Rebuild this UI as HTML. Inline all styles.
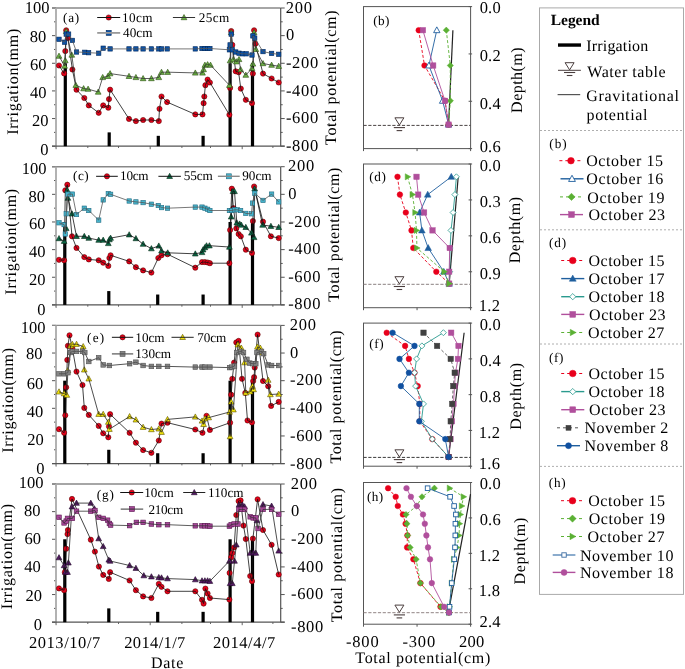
<!DOCTYPE html>
<html><head><meta charset="utf-8"><style>
html,body{margin:0;padding:0;background:#fff;}
body{width:685px;height:669px;overflow:hidden;font-family:"Liberation Serif", serif;}
svg{display:block;}
text{font-family:"Liberation Serif", serif;text-rendering:geometricPrecision;}
svg{will-change:transform;filter:blur(0.35px);}
</style></head><body>
<svg width="685" height="669" viewBox="0 0 685 669" font-family='"Liberation Serif", serif'><line x1="52" y1="146.2" x2="56" y2="146.2" stroke="#555" stroke-width="1" stroke-linecap="butt"/><line x1="54" y1="132.38" x2="56" y2="132.38" stroke="#555" stroke-width="1" stroke-linecap="butt"/><line x1="52" y1="118.56" x2="56" y2="118.56" stroke="#555" stroke-width="1" stroke-linecap="butt"/><line x1="54" y1="104.74" x2="56" y2="104.74" stroke="#555" stroke-width="1" stroke-linecap="butt"/><line x1="52" y1="90.92" x2="56" y2="90.92" stroke="#555" stroke-width="1" stroke-linecap="butt"/><line x1="54" y1="77.1" x2="56" y2="77.1" stroke="#555" stroke-width="1" stroke-linecap="butt"/><line x1="52" y1="63.28" x2="56" y2="63.28" stroke="#555" stroke-width="1" stroke-linecap="butt"/><line x1="54" y1="49.46" x2="56" y2="49.46" stroke="#555" stroke-width="1" stroke-linecap="butt"/><line x1="52" y1="35.64" x2="56" y2="35.64" stroke="#555" stroke-width="1" stroke-linecap="butt"/><line x1="54" y1="21.82" x2="56" y2="21.82" stroke="#555" stroke-width="1" stroke-linecap="butt"/><line x1="52" y1="8" x2="56" y2="8" stroke="#555" stroke-width="1" stroke-linecap="butt"/><line x1="280.7" y1="8" x2="284.7" y2="8" stroke="#555" stroke-width="1" stroke-linecap="butt"/><line x1="280.7" y1="21.82" x2="282.7" y2="21.82" stroke="#555" stroke-width="1" stroke-linecap="butt"/><line x1="280.7" y1="35.64" x2="284.7" y2="35.64" stroke="#555" stroke-width="1" stroke-linecap="butt"/><line x1="280.7" y1="49.46" x2="282.7" y2="49.46" stroke="#555" stroke-width="1" stroke-linecap="butt"/><line x1="280.7" y1="63.28" x2="284.7" y2="63.28" stroke="#555" stroke-width="1" stroke-linecap="butt"/><line x1="280.7" y1="77.1" x2="282.7" y2="77.1" stroke="#555" stroke-width="1" stroke-linecap="butt"/><line x1="280.7" y1="90.92" x2="284.7" y2="90.92" stroke="#555" stroke-width="1" stroke-linecap="butt"/><line x1="280.7" y1="104.74" x2="282.7" y2="104.74" stroke="#555" stroke-width="1" stroke-linecap="butt"/><line x1="280.7" y1="118.56" x2="284.7" y2="118.56" stroke="#555" stroke-width="1" stroke-linecap="butt"/><line x1="280.7" y1="132.38" x2="282.7" y2="132.38" stroke="#555" stroke-width="1" stroke-linecap="butt"/><line x1="280.7" y1="146.2" x2="284.7" y2="146.2" stroke="#555" stroke-width="1" stroke-linecap="butt"/><line x1="56.1" y1="146.2" x2="56.1" y2="149.2" stroke="#666" stroke-width="1" stroke-linecap="butt"/><line x1="87.8" y1="146.2" x2="87.8" y2="148" stroke="#666" stroke-width="1" stroke-linecap="butt"/><line x1="118.5" y1="146.2" x2="118.5" y2="148" stroke="#666" stroke-width="1" stroke-linecap="butt"/><line x1="150.2" y1="146.2" x2="150.2" y2="149.2" stroke="#666" stroke-width="1" stroke-linecap="butt"/><line x1="181.9" y1="146.2" x2="181.9" y2="148" stroke="#666" stroke-width="1" stroke-linecap="butt"/><line x1="210.5" y1="146.2" x2="210.5" y2="148" stroke="#666" stroke-width="1" stroke-linecap="butt"/><line x1="242.2" y1="146.2" x2="242.2" y2="149.2" stroke="#666" stroke-width="1" stroke-linecap="butt"/><line x1="272.9" y1="146.2" x2="272.9" y2="148" stroke="#666" stroke-width="1" stroke-linecap="butt"/><line x1="52" y1="8" x2="280.7" y2="8" stroke="#888" stroke-width="1.4" stroke-linecap="butt"/><line x1="56" y1="8" x2="56" y2="148.2" stroke="#aaa" stroke-width="1.8" stroke-linecap="butt"/><line x1="280.7" y1="8" x2="280.7" y2="146.2" stroke="#555" stroke-width="1.2" stroke-linecap="butt"/><line x1="52" y1="146.2" x2="284.7" y2="146.2" stroke="#555" stroke-width="1.2" stroke-linecap="butt"/><text x="40.17" y="155.4" font-size="16.5" letter-spacing="0" text-anchor="start" fill="#000">0</text><text x="32.12" y="126.46" font-size="16.5" letter-spacing="0" text-anchor="start" fill="#000">20</text><text x="30.12" y="98.02" font-size="16.5" letter-spacing="0" text-anchor="start" fill="#000">40</text><text x="30.12" y="69.88" font-size="16.5" letter-spacing="0" text-anchor="start" fill="#000">60</text><text x="29.82" y="41.64" font-size="16.5" letter-spacing="0" text-anchor="start" fill="#000">80</text><text x="24.87" y="13.4" font-size="16.5" letter-spacing="0" text-anchor="start" fill="#000">100</text><text x="285.76" y="12.6" font-size="16.5" letter-spacing="0.7" text-anchor="start" fill="#000">200</text><text x="285.88" y="40.24" font-size="16.5" letter-spacing="0.7" text-anchor="start" fill="#000">0</text><text x="285.88" y="67.88" font-size="16.5" letter-spacing="0.7" text-anchor="start" fill="#000">-200</text><text x="285.88" y="95.52" font-size="16.5" letter-spacing="0.7" text-anchor="start" fill="#000">-400</text><text x="285.88" y="123.16" font-size="16.5" letter-spacing="0.7" text-anchor="start" fill="#000">-600</text><text x="285.88" y="150.6" font-size="16.5" letter-spacing="0.7" text-anchor="start" fill="#000">-800</text><text transform="translate(17.79,134.86) rotate(-90)" x="0" y="0" font-size="16" letter-spacing="0.78" fill="#000">Irrigation(mm)</text><text transform="translate(336.41,144.88) rotate(-90)" x="0" y="0" font-size="16" letter-spacing="0.64" fill="#000">Total potential(cm)</text><line x1="52" y1="304.9" x2="56" y2="304.9" stroke="#555" stroke-width="1" stroke-linecap="butt"/><line x1="54" y1="291.08" x2="56" y2="291.08" stroke="#555" stroke-width="1" stroke-linecap="butt"/><line x1="52" y1="277.26" x2="56" y2="277.26" stroke="#555" stroke-width="1" stroke-linecap="butt"/><line x1="54" y1="263.44" x2="56" y2="263.44" stroke="#555" stroke-width="1" stroke-linecap="butt"/><line x1="52" y1="249.62" x2="56" y2="249.62" stroke="#555" stroke-width="1" stroke-linecap="butt"/><line x1="54" y1="235.8" x2="56" y2="235.8" stroke="#555" stroke-width="1" stroke-linecap="butt"/><line x1="52" y1="221.98" x2="56" y2="221.98" stroke="#555" stroke-width="1" stroke-linecap="butt"/><line x1="54" y1="208.16" x2="56" y2="208.16" stroke="#555" stroke-width="1" stroke-linecap="butt"/><line x1="52" y1="194.34" x2="56" y2="194.34" stroke="#555" stroke-width="1" stroke-linecap="butt"/><line x1="54" y1="180.52" x2="56" y2="180.52" stroke="#555" stroke-width="1" stroke-linecap="butt"/><line x1="52" y1="166.7" x2="56" y2="166.7" stroke="#555" stroke-width="1" stroke-linecap="butt"/><line x1="280.7" y1="166.7" x2="284.7" y2="166.7" stroke="#555" stroke-width="1" stroke-linecap="butt"/><line x1="280.7" y1="180.52" x2="282.7" y2="180.52" stroke="#555" stroke-width="1" stroke-linecap="butt"/><line x1="280.7" y1="194.34" x2="284.7" y2="194.34" stroke="#555" stroke-width="1" stroke-linecap="butt"/><line x1="280.7" y1="208.16" x2="282.7" y2="208.16" stroke="#555" stroke-width="1" stroke-linecap="butt"/><line x1="280.7" y1="221.98" x2="284.7" y2="221.98" stroke="#555" stroke-width="1" stroke-linecap="butt"/><line x1="280.7" y1="235.8" x2="282.7" y2="235.8" stroke="#555" stroke-width="1" stroke-linecap="butt"/><line x1="280.7" y1="249.62" x2="284.7" y2="249.62" stroke="#555" stroke-width="1" stroke-linecap="butt"/><line x1="280.7" y1="263.44" x2="282.7" y2="263.44" stroke="#555" stroke-width="1" stroke-linecap="butt"/><line x1="280.7" y1="277.26" x2="284.7" y2="277.26" stroke="#555" stroke-width="1" stroke-linecap="butt"/><line x1="280.7" y1="291.08" x2="282.7" y2="291.08" stroke="#555" stroke-width="1" stroke-linecap="butt"/><line x1="280.7" y1="304.9" x2="284.7" y2="304.9" stroke="#555" stroke-width="1" stroke-linecap="butt"/><line x1="56.1" y1="304.9" x2="56.1" y2="307.9" stroke="#666" stroke-width="1" stroke-linecap="butt"/><line x1="87.8" y1="304.9" x2="87.8" y2="306.7" stroke="#666" stroke-width="1" stroke-linecap="butt"/><line x1="118.5" y1="304.9" x2="118.5" y2="306.7" stroke="#666" stroke-width="1" stroke-linecap="butt"/><line x1="150.2" y1="304.9" x2="150.2" y2="307.9" stroke="#666" stroke-width="1" stroke-linecap="butt"/><line x1="181.9" y1="304.9" x2="181.9" y2="306.7" stroke="#666" stroke-width="1" stroke-linecap="butt"/><line x1="210.5" y1="304.9" x2="210.5" y2="306.7" stroke="#666" stroke-width="1" stroke-linecap="butt"/><line x1="242.2" y1="304.9" x2="242.2" y2="307.9" stroke="#666" stroke-width="1" stroke-linecap="butt"/><line x1="272.9" y1="304.9" x2="272.9" y2="306.7" stroke="#666" stroke-width="1" stroke-linecap="butt"/><line x1="52" y1="166.7" x2="280.7" y2="166.7" stroke="#888" stroke-width="1.4" stroke-linecap="butt"/><line x1="56" y1="166.7" x2="56" y2="306.9" stroke="#aaa" stroke-width="1.8" stroke-linecap="butt"/><line x1="280.7" y1="166.7" x2="280.7" y2="304.9" stroke="#555" stroke-width="1.2" stroke-linecap="butt"/><line x1="52" y1="304.9" x2="284.7" y2="304.9" stroke="#555" stroke-width="1.2" stroke-linecap="butt"/><text x="37.27" y="314.8" font-size="16.5" letter-spacing="0" text-anchor="start" fill="#000">0</text><text x="28.92" y="284.66" font-size="16.5" letter-spacing="0" text-anchor="start" fill="#000">20</text><text x="28.92" y="256.82" font-size="16.5" letter-spacing="0" text-anchor="start" fill="#000">40</text><text x="28.92" y="229.18" font-size="16.5" letter-spacing="0" text-anchor="start" fill="#000">60</text><text x="28.52" y="201.54" font-size="16.5" letter-spacing="0" text-anchor="start" fill="#000">80</text><text x="21.77" y="173.5" font-size="16.5" letter-spacing="0" text-anchor="start" fill="#000">100</text><text x="288.06" y="171.3" font-size="16.5" letter-spacing="0.7" text-anchor="start" fill="#000">200</text><text x="288.18" y="198.94" font-size="16.5" letter-spacing="0.7" text-anchor="start" fill="#000">0</text><text x="288.18" y="226.58" font-size="16.5" letter-spacing="0.7" text-anchor="start" fill="#000">-200</text><text x="288.18" y="254.22" font-size="16.5" letter-spacing="0.7" text-anchor="start" fill="#000">-400</text><text x="288.18" y="281.86" font-size="16.5" letter-spacing="0.7" text-anchor="start" fill="#000">-600</text><text x="288.18" y="308.9" font-size="16.5" letter-spacing="0.7" text-anchor="start" fill="#000">-800</text><text transform="translate(15.64,294.66) rotate(-90)" x="0" y="0" font-size="16" letter-spacing="0.76" fill="#000">Irrigation(mm)</text><text transform="translate(339.26,301.78) rotate(-90)" x="0" y="0" font-size="16" letter-spacing="0.63" fill="#000">Total potential(cm)</text><line x1="52" y1="463.6" x2="56" y2="463.6" stroke="#555" stroke-width="1" stroke-linecap="butt"/><line x1="54" y1="449.78" x2="56" y2="449.78" stroke="#555" stroke-width="1" stroke-linecap="butt"/><line x1="52" y1="435.96" x2="56" y2="435.96" stroke="#555" stroke-width="1" stroke-linecap="butt"/><line x1="54" y1="422.14" x2="56" y2="422.14" stroke="#555" stroke-width="1" stroke-linecap="butt"/><line x1="52" y1="408.32" x2="56" y2="408.32" stroke="#555" stroke-width="1" stroke-linecap="butt"/><line x1="54" y1="394.5" x2="56" y2="394.5" stroke="#555" stroke-width="1" stroke-linecap="butt"/><line x1="52" y1="380.68" x2="56" y2="380.68" stroke="#555" stroke-width="1" stroke-linecap="butt"/><line x1="54" y1="366.86" x2="56" y2="366.86" stroke="#555" stroke-width="1" stroke-linecap="butt"/><line x1="52" y1="353.04" x2="56" y2="353.04" stroke="#555" stroke-width="1" stroke-linecap="butt"/><line x1="54" y1="339.22" x2="56" y2="339.22" stroke="#555" stroke-width="1" stroke-linecap="butt"/><line x1="52" y1="325.4" x2="56" y2="325.4" stroke="#555" stroke-width="1" stroke-linecap="butt"/><line x1="280.7" y1="325.4" x2="284.7" y2="325.4" stroke="#555" stroke-width="1" stroke-linecap="butt"/><line x1="280.7" y1="339.22" x2="282.7" y2="339.22" stroke="#555" stroke-width="1" stroke-linecap="butt"/><line x1="280.7" y1="353.04" x2="284.7" y2="353.04" stroke="#555" stroke-width="1" stroke-linecap="butt"/><line x1="280.7" y1="366.86" x2="282.7" y2="366.86" stroke="#555" stroke-width="1" stroke-linecap="butt"/><line x1="280.7" y1="380.68" x2="284.7" y2="380.68" stroke="#555" stroke-width="1" stroke-linecap="butt"/><line x1="280.7" y1="394.5" x2="282.7" y2="394.5" stroke="#555" stroke-width="1" stroke-linecap="butt"/><line x1="280.7" y1="408.32" x2="284.7" y2="408.32" stroke="#555" stroke-width="1" stroke-linecap="butt"/><line x1="280.7" y1="422.14" x2="282.7" y2="422.14" stroke="#555" stroke-width="1" stroke-linecap="butt"/><line x1="280.7" y1="435.96" x2="284.7" y2="435.96" stroke="#555" stroke-width="1" stroke-linecap="butt"/><line x1="280.7" y1="449.78" x2="282.7" y2="449.78" stroke="#555" stroke-width="1" stroke-linecap="butt"/><line x1="280.7" y1="463.6" x2="284.7" y2="463.6" stroke="#555" stroke-width="1" stroke-linecap="butt"/><line x1="56.1" y1="463.6" x2="56.1" y2="466.6" stroke="#666" stroke-width="1" stroke-linecap="butt"/><line x1="87.8" y1="463.6" x2="87.8" y2="465.4" stroke="#666" stroke-width="1" stroke-linecap="butt"/><line x1="118.5" y1="463.6" x2="118.5" y2="465.4" stroke="#666" stroke-width="1" stroke-linecap="butt"/><line x1="150.2" y1="463.6" x2="150.2" y2="466.6" stroke="#666" stroke-width="1" stroke-linecap="butt"/><line x1="181.9" y1="463.6" x2="181.9" y2="465.4" stroke="#666" stroke-width="1" stroke-linecap="butt"/><line x1="210.5" y1="463.6" x2="210.5" y2="465.4" stroke="#666" stroke-width="1" stroke-linecap="butt"/><line x1="242.2" y1="463.6" x2="242.2" y2="466.6" stroke="#666" stroke-width="1" stroke-linecap="butt"/><line x1="272.9" y1="463.6" x2="272.9" y2="465.4" stroke="#666" stroke-width="1" stroke-linecap="butt"/><line x1="52" y1="325.4" x2="280.7" y2="325.4" stroke="#888" stroke-width="1.4" stroke-linecap="butt"/><line x1="56" y1="325.4" x2="56" y2="465.6" stroke="#aaa" stroke-width="1.8" stroke-linecap="butt"/><line x1="280.7" y1="325.4" x2="280.7" y2="463.6" stroke="#555" stroke-width="1.2" stroke-linecap="butt"/><line x1="52" y1="463.6" x2="284.7" y2="463.6" stroke="#555" stroke-width="1.2" stroke-linecap="butt"/><text x="36.17" y="473.8" font-size="16.5" letter-spacing="0" text-anchor="start" fill="#000">0</text><text x="27.32" y="445.26" font-size="16.5" letter-spacing="0" text-anchor="start" fill="#000">20</text><text x="26.72" y="416.82" font-size="16.5" letter-spacing="0" text-anchor="start" fill="#000">40</text><text x="26.72" y="388.78" font-size="16.5" letter-spacing="0" text-anchor="start" fill="#000">60</text><text x="26.12" y="359.34" font-size="16.5" letter-spacing="0" text-anchor="start" fill="#000">80</text><text x="20.87" y="332.7" font-size="16.5" letter-spacing="0" text-anchor="start" fill="#000">100</text><text x="289.86" y="330" font-size="16.5" letter-spacing="0.7" text-anchor="start" fill="#000">200</text><text x="289.98" y="357.64" font-size="16.5" letter-spacing="0.7" text-anchor="start" fill="#000">0</text><text x="289.98" y="385.28" font-size="16.5" letter-spacing="0.7" text-anchor="start" fill="#000">-200</text><text x="289.98" y="412.92" font-size="16.5" letter-spacing="0.7" text-anchor="start" fill="#000">-400</text><text x="289.98" y="440.56" font-size="16.5" letter-spacing="0.7" text-anchor="start" fill="#000">-600</text><text x="289.98" y="469.3" font-size="16.5" letter-spacing="0.7" text-anchor="start" fill="#000">-800</text><text transform="translate(13.44,452.76) rotate(-90)" x="0" y="0" font-size="16" letter-spacing="0.68" fill="#000">Irrigation(mm)</text><text transform="translate(341.06,463.58) rotate(-90)" x="0" y="0" font-size="16" letter-spacing="0.58" fill="#000">Total potential(cm)</text><line x1="52" y1="622.2" x2="56" y2="622.2" stroke="#555" stroke-width="1" stroke-linecap="butt"/><line x1="54" y1="608.38" x2="56" y2="608.38" stroke="#555" stroke-width="1" stroke-linecap="butt"/><line x1="52" y1="594.56" x2="56" y2="594.56" stroke="#555" stroke-width="1" stroke-linecap="butt"/><line x1="54" y1="580.74" x2="56" y2="580.74" stroke="#555" stroke-width="1" stroke-linecap="butt"/><line x1="52" y1="566.92" x2="56" y2="566.92" stroke="#555" stroke-width="1" stroke-linecap="butt"/><line x1="54" y1="553.1" x2="56" y2="553.1" stroke="#555" stroke-width="1" stroke-linecap="butt"/><line x1="52" y1="539.28" x2="56" y2="539.28" stroke="#555" stroke-width="1" stroke-linecap="butt"/><line x1="54" y1="525.46" x2="56" y2="525.46" stroke="#555" stroke-width="1" stroke-linecap="butt"/><line x1="52" y1="511.64" x2="56" y2="511.64" stroke="#555" stroke-width="1" stroke-linecap="butt"/><line x1="54" y1="497.82" x2="56" y2="497.82" stroke="#555" stroke-width="1" stroke-linecap="butt"/><line x1="52" y1="484" x2="56" y2="484" stroke="#555" stroke-width="1" stroke-linecap="butt"/><line x1="280.7" y1="484" x2="284.7" y2="484" stroke="#555" stroke-width="1" stroke-linecap="butt"/><line x1="280.7" y1="497.82" x2="282.7" y2="497.82" stroke="#555" stroke-width="1" stroke-linecap="butt"/><line x1="280.7" y1="511.64" x2="284.7" y2="511.64" stroke="#555" stroke-width="1" stroke-linecap="butt"/><line x1="280.7" y1="525.46" x2="282.7" y2="525.46" stroke="#555" stroke-width="1" stroke-linecap="butt"/><line x1="280.7" y1="539.28" x2="284.7" y2="539.28" stroke="#555" stroke-width="1" stroke-linecap="butt"/><line x1="280.7" y1="553.1" x2="282.7" y2="553.1" stroke="#555" stroke-width="1" stroke-linecap="butt"/><line x1="280.7" y1="566.92" x2="284.7" y2="566.92" stroke="#555" stroke-width="1" stroke-linecap="butt"/><line x1="280.7" y1="580.74" x2="282.7" y2="580.74" stroke="#555" stroke-width="1" stroke-linecap="butt"/><line x1="280.7" y1="594.56" x2="284.7" y2="594.56" stroke="#555" stroke-width="1" stroke-linecap="butt"/><line x1="280.7" y1="608.38" x2="282.7" y2="608.38" stroke="#555" stroke-width="1" stroke-linecap="butt"/><line x1="280.7" y1="622.2" x2="284.7" y2="622.2" stroke="#555" stroke-width="1" stroke-linecap="butt"/><line x1="56.1" y1="622.2" x2="56.1" y2="625.2" stroke="#666" stroke-width="1" stroke-linecap="butt"/><line x1="87.8" y1="622.2" x2="87.8" y2="624" stroke="#666" stroke-width="1" stroke-linecap="butt"/><line x1="118.5" y1="622.2" x2="118.5" y2="624" stroke="#666" stroke-width="1" stroke-linecap="butt"/><line x1="150.2" y1="622.2" x2="150.2" y2="625.2" stroke="#666" stroke-width="1" stroke-linecap="butt"/><line x1="181.9" y1="622.2" x2="181.9" y2="624" stroke="#666" stroke-width="1" stroke-linecap="butt"/><line x1="210.5" y1="622.2" x2="210.5" y2="624" stroke="#666" stroke-width="1" stroke-linecap="butt"/><line x1="242.2" y1="622.2" x2="242.2" y2="625.2" stroke="#666" stroke-width="1" stroke-linecap="butt"/><line x1="272.9" y1="622.2" x2="272.9" y2="624" stroke="#666" stroke-width="1" stroke-linecap="butt"/><line x1="52" y1="484" x2="280.7" y2="484" stroke="#888" stroke-width="1.4" stroke-linecap="butt"/><line x1="56" y1="484" x2="56" y2="624.2" stroke="#aaa" stroke-width="1.8" stroke-linecap="butt"/><line x1="280.7" y1="484" x2="280.7" y2="622.2" stroke="#555" stroke-width="1.2" stroke-linecap="butt"/><line x1="52" y1="622.2" x2="284.7" y2="622.2" stroke="#555" stroke-width="1.2" stroke-linecap="butt"/><text x="33.77" y="629.7" font-size="16.5" letter-spacing="0" text-anchor="start" fill="#000">0</text><text x="25.52" y="600.86" font-size="16.5" letter-spacing="0" text-anchor="start" fill="#000">20</text><text x="24.32" y="572.32" font-size="16.5" letter-spacing="0" text-anchor="start" fill="#000">40</text><text x="24.62" y="544.18" font-size="16.5" letter-spacing="0" text-anchor="start" fill="#000">60</text><text x="23.92" y="515.94" font-size="16.5" letter-spacing="0" text-anchor="start" fill="#000">80</text><text x="18.77" y="488.2" font-size="16.5" letter-spacing="0" text-anchor="start" fill="#000">100</text><text x="290.86" y="488.6" font-size="16.5" letter-spacing="0.7" text-anchor="start" fill="#000">200</text><text x="290.98" y="516.24" font-size="16.5" letter-spacing="0.7" text-anchor="start" fill="#000">0</text><text x="290.98" y="543.88" font-size="16.5" letter-spacing="0.7" text-anchor="start" fill="#000">-200</text><text x="290.98" y="571.52" font-size="16.5" letter-spacing="0.7" text-anchor="start" fill="#000">-400</text><text x="290.98" y="599.16" font-size="16.5" letter-spacing="0.7" text-anchor="start" fill="#000">-600</text><text x="290.98" y="631.6" font-size="16.5" letter-spacing="0.7" text-anchor="start" fill="#000">-800</text><text transform="translate(12.14,609.36) rotate(-90)" x="0" y="0" font-size="16" letter-spacing="0.73" fill="#000">Irrigation(mm)</text><text transform="translate(341.56,622.18) rotate(-90)" x="0" y="0" font-size="16" letter-spacing="0.63" fill="#000">Total potential(cm)</text><rect x="63.7" y="63.28" width="3.2" height="82.92" fill="#000"/><rect x="107.6" y="132.38" width="3.2" height="13.82" fill="#000"/><rect x="156.7" y="135.83" width="3.2" height="10.37" fill="#000"/><rect x="201.5" y="135.83" width="3.2" height="10.37" fill="#000"/><rect x="228.5" y="63.28" width="3.2" height="82.92" fill="#000"/><rect x="250.9" y="63.28" width="3.2" height="82.92" fill="#000"/><circle cx="59" cy="65.5" r="2.6" fill="#e6001a" stroke="#5a0000" stroke-width="0.6"/><circle cx="64.1" cy="73.4" r="2.6" fill="#e6001a" stroke="#5a0000" stroke-width="0.6"/><circle cx="65.3" cy="51.1" r="2.6" fill="#e6001a" stroke="#5a0000" stroke-width="0.6"/><circle cx="66.2" cy="30.3" r="2.6" fill="#e6001a" stroke="#5a0000" stroke-width="0.6"/><circle cx="67.9" cy="38.1" r="2.6" fill="#e6001a" stroke="#5a0000" stroke-width="0.6"/><circle cx="72.4" cy="69.5" r="2.6" fill="#e6001a" stroke="#5a0000" stroke-width="0.6"/><circle cx="76.5" cy="89.7" r="2.6" fill="#e6001a" stroke="#5a0000" stroke-width="0.6"/><circle cx="84.3" cy="98" r="2.6" fill="#e6001a" stroke="#5a0000" stroke-width="0.6"/><circle cx="88.8" cy="105.4" r="2.6" fill="#e6001a" stroke="#5a0000" stroke-width="0.6"/><circle cx="98.7" cy="112.8" r="2.6" fill="#e6001a" stroke="#5a0000" stroke-width="0.6"/><circle cx="103.2" cy="105.4" r="2.6" fill="#e6001a" stroke="#5a0000" stroke-width="0.6"/><circle cx="108.3" cy="107.7" r="2.6" fill="#e6001a" stroke="#5a0000" stroke-width="0.6"/><circle cx="109" cy="99.1" r="2.6" fill="#e6001a" stroke="#5a0000" stroke-width="0.6"/><circle cx="110.1" cy="89.7" r="2.6" fill="#e6001a" stroke="#5a0000" stroke-width="0.6"/><circle cx="129" cy="118.9" r="2.6" fill="#e6001a" stroke="#5a0000" stroke-width="0.6"/><circle cx="135.9" cy="121.1" r="2.6" fill="#e6001a" stroke="#5a0000" stroke-width="0.6"/><circle cx="143.1" cy="120" r="2.6" fill="#e6001a" stroke="#5a0000" stroke-width="0.6"/><circle cx="151.4" cy="120" r="2.6" fill="#e6001a" stroke="#5a0000" stroke-width="0.6"/><circle cx="158.8" cy="121.1" r="2.6" fill="#e6001a" stroke="#5a0000" stroke-width="0.6"/><circle cx="159.5" cy="108.8" r="2.6" fill="#e6001a" stroke="#5a0000" stroke-width="0.6"/><circle cx="161.5" cy="96.5" r="2.6" fill="#e6001a" stroke="#5a0000" stroke-width="0.6"/><circle cx="167.1" cy="102.1" r="2.6" fill="#e6001a" stroke="#5a0000" stroke-width="0.6"/><circle cx="195.3" cy="114.4" r="2.6" fill="#e6001a" stroke="#5a0000" stroke-width="0.6"/><circle cx="202.5" cy="114.4" r="2.6" fill="#e6001a" stroke="#5a0000" stroke-width="0.6"/><circle cx="203.6" cy="103.2" r="2.6" fill="#e6001a" stroke="#5a0000" stroke-width="0.6"/><circle cx="204.3" cy="96.5" r="2.6" fill="#e6001a" stroke="#5a0000" stroke-width="0.6"/><circle cx="205.4" cy="85.2" r="2.6" fill="#e6001a" stroke="#5a0000" stroke-width="0.6"/><circle cx="207.6" cy="79.6" r="2.6" fill="#e6001a" stroke="#5a0000" stroke-width="0.6"/><circle cx="209.9" cy="82.5" r="2.6" fill="#e6001a" stroke="#5a0000" stroke-width="0.6"/><circle cx="229.4" cy="114.8" r="2.6" fill="#e6001a" stroke="#5a0000" stroke-width="0.6"/><circle cx="230.1" cy="87.9" r="2.6" fill="#e6001a" stroke="#5a0000" stroke-width="0.6"/><circle cx="231.2" cy="31" r="2.6" fill="#e6001a" stroke="#5a0000" stroke-width="0.6"/><circle cx="232.3" cy="44.9" r="2.6" fill="#e6001a" stroke="#5a0000" stroke-width="0.6"/><circle cx="235.7" cy="71.3" r="2.6" fill="#e6001a" stroke="#5a0000" stroke-width="0.6"/><circle cx="238.6" cy="72.2" r="2.6" fill="#e6001a" stroke="#5a0000" stroke-width="0.6"/><circle cx="240.8" cy="88.6" r="2.6" fill="#e6001a" stroke="#5a0000" stroke-width="0.6"/><circle cx="245.8" cy="99.8" r="2.6" fill="#e6001a" stroke="#5a0000" stroke-width="0.6"/><circle cx="252" cy="103.2" r="2.6" fill="#e6001a" stroke="#5a0000" stroke-width="0.6"/><circle cx="252.9" cy="73.6" r="2.6" fill="#e6001a" stroke="#5a0000" stroke-width="0.6"/><circle cx="254.1" cy="30.3" r="2.6" fill="#e6001a" stroke="#5a0000" stroke-width="0.6"/><circle cx="255.4" cy="43.7" r="2.6" fill="#e6001a" stroke="#5a0000" stroke-width="0.6"/><circle cx="263" cy="73.6" r="2.6" fill="#e6001a" stroke="#5a0000" stroke-width="0.6"/><circle cx="271.6" cy="78.5" r="2.6" fill="#e6001a" stroke="#5a0000" stroke-width="0.6"/><circle cx="278.7" cy="82.5" r="2.6" fill="#e6001a" stroke="#5a0000" stroke-width="0.6"/><polyline points="59,65.5 64.1,73.4 65.3,51.1 66.2,30.3 67.9,38.1 72.4,69.5 76.5,89.7 84.3,98 88.8,105.4 98.7,112.8 103.2,105.4 108.3,107.7 109,99.1 110.1,89.7 129,118.9 135.9,121.1 143.1,120 151.4,120 158.8,121.1 159.5,108.8 161.5,96.5 167.1,102.1 195.3,114.4 202.5,114.4 203.6,103.2 204.3,96.5 205.4,85.2 207.6,79.6 209.9,82.5 229.4,114.8 230.1,87.9 231.2,31 232.3,44.9 235.7,71.3 238.6,72.2 240.8,88.6 245.8,99.8 252,103.2 252.9,73.6 254.1,30.3 255.4,43.7 263,73.6 271.6,78.5 278.7,82.5" fill="none" stroke="#111" stroke-width="0.8" stroke-linejoin="round"/><path d="M59,53.11L61.86,58.31L56.14,58.31Z" fill="#6cb444" stroke="#2a4a10" stroke-width="0.6"/><path d="M64.6,63.01L67.46,68.21L61.74,68.21Z" fill="#6cb444" stroke="#2a4a10" stroke-width="0.6"/><path d="M65.3,57.61L68.16,62.81L62.44,62.81Z" fill="#6cb444" stroke="#2a4a10" stroke-width="0.6"/><path d="M66.2,28.41L69.06,33.61L63.34,33.61Z" fill="#6cb444" stroke="#2a4a10" stroke-width="0.6"/><path d="M71.8,52.01L74.66,57.21L68.94,57.21Z" fill="#6cb444" stroke="#2a4a10" stroke-width="0.6"/><path d="M75.8,82.21L78.66,87.41L72.94,87.41Z" fill="#6cb444" stroke="#2a4a10" stroke-width="0.6"/><path d="M83.6,85.61L86.46,90.81L80.74,90.81Z" fill="#6cb444" stroke="#2a4a10" stroke-width="0.6"/><path d="M88.1,86.11L90.96,91.31L85.24,91.31Z" fill="#6cb444" stroke="#2a4a10" stroke-width="0.6"/><path d="M98.2,89.01L101.06,94.21L95.34,94.21Z" fill="#6cb444" stroke="#2a4a10" stroke-width="0.6"/><path d="M102.7,74.41L105.56,79.61L99.84,79.61Z" fill="#6cb444" stroke="#2a4a10" stroke-width="0.6"/><path d="M107.9,73.31L110.76,78.51L105.04,78.51Z" fill="#6cb444" stroke="#2a4a10" stroke-width="0.6"/><path d="M110.1,70.61L112.96,75.81L107.24,75.81Z" fill="#6cb444" stroke="#2a4a10" stroke-width="0.6"/><path d="M129,73.31L131.86,78.51L126.14,78.51Z" fill="#6cb444" stroke="#2a4a10" stroke-width="0.6"/><path d="M135.9,74.41L138.76,79.61L133.04,79.61Z" fill="#6cb444" stroke="#2a4a10" stroke-width="0.6"/><path d="M143.1,75.51L145.96,80.71L140.24,80.71Z" fill="#6cb444" stroke="#2a4a10" stroke-width="0.6"/><path d="M151.4,75.51L154.26,80.71L148.54,80.71Z" fill="#6cb444" stroke="#2a4a10" stroke-width="0.6"/><path d="M158.8,74.41L161.66,79.61L155.94,79.61Z" fill="#6cb444" stroke="#2a4a10" stroke-width="0.6"/><path d="M161.5,69.21L164.36,74.41L158.64,74.41Z" fill="#6cb444" stroke="#2a4a10" stroke-width="0.6"/><path d="M167.7,69.21L170.56,74.41L164.84,74.41Z" fill="#6cb444" stroke="#2a4a10" stroke-width="0.6"/><path d="M195.3,69.91L198.16,75.11L192.44,75.11Z" fill="#6cb444" stroke="#2a4a10" stroke-width="0.6"/><path d="M202.5,69.91L205.36,75.11L199.64,75.11Z" fill="#6cb444" stroke="#2a4a10" stroke-width="0.6"/><path d="M203.6,66.51L206.46,71.71L200.74,71.71Z" fill="#6cb444" stroke="#2a4a10" stroke-width="0.6"/><path d="M204.9,62.11L207.76,67.31L202.04,67.31Z" fill="#6cb444" stroke="#2a4a10" stroke-width="0.6"/><path d="M207.6,61.61L210.46,66.81L204.74,66.81Z" fill="#6cb444" stroke="#2a4a10" stroke-width="0.6"/><path d="M210.5,62.11L213.36,67.31L207.64,67.31Z" fill="#6cb444" stroke="#2a4a10" stroke-width="0.6"/><path d="M229.4,82.21L232.26,87.41L226.54,87.41Z" fill="#6cb444" stroke="#2a4a10" stroke-width="0.6"/><path d="M230.1,57.61L232.96,62.81L227.24,62.81Z" fill="#6cb444" stroke="#2a4a10" stroke-width="0.6"/><path d="M231.2,29.51L234.06,34.71L228.34,34.71Z" fill="#6cb444" stroke="#2a4a10" stroke-width="0.6"/><path d="M233.4,56.41L236.26,61.61L230.54,61.61Z" fill="#6cb444" stroke="#2a4a10" stroke-width="0.6"/><path d="M236.3,58.71L239.16,63.91L233.44,63.91Z" fill="#6cb444" stroke="#2a4a10" stroke-width="0.6"/><path d="M239,56.41L241.86,61.61L236.14,61.61Z" fill="#6cb444" stroke="#2a4a10" stroke-width="0.6"/><path d="M240.6,66.51L243.46,71.71L237.74,71.71Z" fill="#6cb444" stroke="#2a4a10" stroke-width="0.6"/><path d="M245.8,72.11L248.66,77.31L242.94,77.31Z" fill="#6cb444" stroke="#2a4a10" stroke-width="0.6"/><path d="M252,65.41L254.86,70.61L249.14,70.61Z" fill="#6cb444" stroke="#2a4a10" stroke-width="0.6"/><path d="M252.9,60.91L255.76,66.11L250.04,66.11Z" fill="#6cb444" stroke="#2a4a10" stroke-width="0.6"/><path d="M254.1,29.51L256.96,34.71L251.24,34.71Z" fill="#6cb444" stroke="#2a4a10" stroke-width="0.6"/><path d="M255.8,46.31L258.66,51.51L252.94,51.51Z" fill="#6cb444" stroke="#2a4a10" stroke-width="0.6"/><path d="M263,60.51L265.86,65.71L260.14,65.71Z" fill="#6cb444" stroke="#2a4a10" stroke-width="0.6"/><path d="M271.6,62.11L274.46,67.31L268.74,67.31Z" fill="#6cb444" stroke="#2a4a10" stroke-width="0.6"/><path d="M278.7,63.21L281.56,68.41L275.84,68.41Z" fill="#6cb444" stroke="#2a4a10" stroke-width="0.6"/><polyline points="59,56.1 64.6,66 65.3,60.6 66.2,31.4 71.8,55 75.8,85.2 83.6,88.6 88.1,89.1 98.2,92 102.7,77.4 107.9,76.3 110.1,73.6 129,76.3 135.9,77.4 143.1,78.5 151.4,78.5 158.8,77.4 161.5,72.2 167.7,72.2 195.3,72.9 202.5,72.9 203.6,69.5 204.9,65.1 207.6,64.6 210.5,65.1 229.4,85.2 230.1,60.6 231.2,32.5 233.4,59.4 236.3,61.7 239,59.4 240.6,69.5 245.8,75.1 252,68.4 252.9,63.9 254.1,32.5 255.8,49.3 263,63.5 271.6,65.1 278.7,66.2" fill="none" stroke="#333" stroke-width="0.8" stroke-linejoin="round"/><rect x="56.8" y="37.1" width="4.4" height="4.4" fill="#0a52a8" stroke="#03285a" stroke-width="0.6"/><rect x="62.4" y="40" width="4.4" height="4.4" fill="#0a52a8" stroke="#03285a" stroke-width="0.6"/><rect x="64" y="31.9" width="4.4" height="4.4" fill="#0a52a8" stroke="#03285a" stroke-width="0.6"/><rect x="66.4" y="31.9" width="4.4" height="4.4" fill="#0a52a8" stroke="#03285a" stroke-width="0.6"/><rect x="70.2" y="38.2" width="4.4" height="4.4" fill="#0a52a8" stroke="#03285a" stroke-width="0.6"/><rect x="74.3" y="49.8" width="4.4" height="4.4" fill="#0a52a8" stroke="#03285a" stroke-width="0.6"/><rect x="82.6" y="50.1" width="4.4" height="4.4" fill="#0a52a8" stroke="#03285a" stroke-width="0.6"/><rect x="86.4" y="50.5" width="4.4" height="4.4" fill="#0a52a8" stroke="#03285a" stroke-width="0.6"/><rect x="96.5" y="51" width="4.4" height="4.4" fill="#0a52a8" stroke="#03285a" stroke-width="0.6"/><rect x="101" y="46" width="4.4" height="4.4" fill="#0a52a8" stroke="#03285a" stroke-width="0.6"/><rect x="107.9" y="46.7" width="4.4" height="4.4" fill="#0a52a8" stroke="#03285a" stroke-width="0.6"/><rect x="126.8" y="46.7" width="4.4" height="4.4" fill="#0a52a8" stroke="#03285a" stroke-width="0.6"/><rect x="133.7" y="46.7" width="4.4" height="4.4" fill="#0a52a8" stroke="#03285a" stroke-width="0.6"/><rect x="140.9" y="46.7" width="4.4" height="4.4" fill="#0a52a8" stroke="#03285a" stroke-width="0.6"/><rect x="149.2" y="46.7" width="4.4" height="4.4" fill="#0a52a8" stroke="#03285a" stroke-width="0.6"/><rect x="156.6" y="46.7" width="4.4" height="4.4" fill="#0a52a8" stroke="#03285a" stroke-width="0.6"/><rect x="159.3" y="46.7" width="4.4" height="4.4" fill="#0a52a8" stroke="#03285a" stroke-width="0.6"/><rect x="165" y="46.7" width="4.4" height="4.4" fill="#0a52a8" stroke="#03285a" stroke-width="0.6"/><rect x="193.1" y="46.7" width="4.4" height="4.4" fill="#0a52a8" stroke="#03285a" stroke-width="0.6"/><rect x="199.8" y="46.3" width="4.4" height="4.4" fill="#0a52a8" stroke="#03285a" stroke-width="0.6"/><rect x="202.7" y="46.3" width="4.4" height="4.4" fill="#0a52a8" stroke="#03285a" stroke-width="0.6"/><rect x="205.4" y="46.3" width="4.4" height="4.4" fill="#0a52a8" stroke="#03285a" stroke-width="0.6"/><rect x="207.7" y="46.3" width="4.4" height="4.4" fill="#0a52a8" stroke="#03285a" stroke-width="0.6"/><rect x="227.2" y="47.6" width="4.4" height="4.4" fill="#0a52a8" stroke="#03285a" stroke-width="0.6"/><rect x="227.9" y="42.7" width="4.4" height="4.4" fill="#0a52a8" stroke="#03285a" stroke-width="0.6"/><rect x="229" y="31.9" width="4.4" height="4.4" fill="#0a52a8" stroke="#03285a" stroke-width="0.6"/><rect x="230.1" y="47.6" width="4.4" height="4.4" fill="#0a52a8" stroke="#03285a" stroke-width="0.6"/><rect x="233.5" y="49.8" width="4.4" height="4.4" fill="#0a52a8" stroke="#03285a" stroke-width="0.6"/><rect x="236.8" y="51" width="4.4" height="4.4" fill="#0a52a8" stroke="#03285a" stroke-width="0.6"/><rect x="240.2" y="51.6" width="4.4" height="4.4" fill="#0a52a8" stroke="#03285a" stroke-width="0.6"/><rect x="244" y="51.6" width="4.4" height="4.4" fill="#0a52a8" stroke="#03285a" stroke-width="0.6"/><rect x="249.8" y="52.8" width="4.4" height="4.4" fill="#0a52a8" stroke="#03285a" stroke-width="0.6"/><rect x="250.7" y="33.7" width="4.4" height="4.4" fill="#0a52a8" stroke="#03285a" stroke-width="0.6"/><rect x="252.5" y="35.9" width="4.4" height="4.4" fill="#0a52a8" stroke="#03285a" stroke-width="0.6"/><rect x="260.8" y="49.4" width="4.4" height="4.4" fill="#0a52a8" stroke="#03285a" stroke-width="0.6"/><rect x="269.4" y="51.2" width="4.4" height="4.4" fill="#0a52a8" stroke="#03285a" stroke-width="0.6"/><rect x="276.5" y="52.1" width="4.4" height="4.4" fill="#0a52a8" stroke="#03285a" stroke-width="0.6"/><polyline points="59,39.3 64.6,42.2 66.2,34.1 68.6,34.1 72.4,40.4 76.5,52 84.8,52.3 88.6,52.7 98.7,53.2 103.2,48.2 110.1,48.9 129,48.9 135.9,48.9 143.1,48.9 151.4,48.9 158.8,48.9 161.5,48.9 167.2,48.9 195.3,48.9 202,48.5 204.9,48.5 207.6,48.5 209.9,48.5 229.4,49.8 230.1,44.9 231.2,34.1 232.3,49.8 235.7,52 239,53.2 242.4,53.8 246.2,53.8 252,55 252.9,35.9 254.7,38.1 263,51.6 271.6,53.4 278.7,54.3" fill="none" stroke="#555" stroke-width="0.8" stroke-linejoin="round"/><rect x="63.2" y="221.98" width="3.2" height="82.92" fill="#000"/><rect x="107.2" y="291.08" width="3.2" height="13.82" fill="#000"/><rect x="156.1" y="294.53" width="3.2" height="10.37" fill="#000"/><rect x="201.5" y="294.53" width="3.2" height="10.37" fill="#000"/><rect x="228.5" y="221.98" width="3.2" height="82.92" fill="#000"/><rect x="250.9" y="221.98" width="3.2" height="82.92" fill="#000"/><circle cx="59" cy="259.8" r="2.6" fill="#e6001a" stroke="#5a0000" stroke-width="0.6"/><circle cx="64.1" cy="260.3" r="2.6" fill="#e6001a" stroke="#5a0000" stroke-width="0.6"/><circle cx="65.3" cy="190.3" r="2.6" fill="#e6001a" stroke="#5a0000" stroke-width="0.6"/><circle cx="67.3" cy="184.7" r="2.6" fill="#e6001a" stroke="#5a0000" stroke-width="0.6"/><circle cx="72" cy="236.3" r="2.6" fill="#e6001a" stroke="#5a0000" stroke-width="0.6"/><circle cx="76.5" cy="247.9" r="2.6" fill="#e6001a" stroke="#5a0000" stroke-width="0.6"/><circle cx="84.3" cy="257.1" r="2.6" fill="#e6001a" stroke="#5a0000" stroke-width="0.6"/><circle cx="88.8" cy="259.4" r="2.6" fill="#e6001a" stroke="#5a0000" stroke-width="0.6"/><circle cx="98.7" cy="260.3" r="2.6" fill="#e6001a" stroke="#5a0000" stroke-width="0.6"/><circle cx="103.2" cy="262.7" r="2.6" fill="#e6001a" stroke="#5a0000" stroke-width="0.6"/><circle cx="108.3" cy="265.9" r="2.6" fill="#e6001a" stroke="#5a0000" stroke-width="0.6"/><circle cx="109.4" cy="258" r="2.6" fill="#e6001a" stroke="#5a0000" stroke-width="0.6"/><circle cx="110.6" cy="255.3" r="2.6" fill="#e6001a" stroke="#5a0000" stroke-width="0.6"/><circle cx="129.2" cy="261.4" r="2.6" fill="#e6001a" stroke="#5a0000" stroke-width="0.6"/><circle cx="135.9" cy="267.2" r="2.6" fill="#e6001a" stroke="#5a0000" stroke-width="0.6"/><circle cx="143.1" cy="270.4" r="2.6" fill="#e6001a" stroke="#5a0000" stroke-width="0.6"/><circle cx="151.4" cy="272.6" r="2.6" fill="#e6001a" stroke="#5a0000" stroke-width="0.6"/><circle cx="158.3" cy="258" r="2.6" fill="#e6001a" stroke="#5a0000" stroke-width="0.6"/><circle cx="161.5" cy="255.3" r="2.6" fill="#e6001a" stroke="#5a0000" stroke-width="0.6"/><circle cx="167.5" cy="254.2" r="2.6" fill="#e6001a" stroke="#5a0000" stroke-width="0.6"/><circle cx="195.3" cy="267.7" r="2.6" fill="#e6001a" stroke="#5a0000" stroke-width="0.6"/><circle cx="202" cy="262.1" r="2.6" fill="#e6001a" stroke="#5a0000" stroke-width="0.6"/><circle cx="204.9" cy="262.1" r="2.6" fill="#e6001a" stroke="#5a0000" stroke-width="0.6"/><circle cx="207.6" cy="262.5" r="2.6" fill="#e6001a" stroke="#5a0000" stroke-width="0.6"/><circle cx="209.9" cy="263.2" r="2.6" fill="#e6001a" stroke="#5a0000" stroke-width="0.6"/><circle cx="229.4" cy="263.2" r="2.6" fill="#e6001a" stroke="#5a0000" stroke-width="0.6"/><circle cx="230.1" cy="230" r="2.6" fill="#e6001a" stroke="#5a0000" stroke-width="0.6"/><circle cx="231.8" cy="188.7" r="2.6" fill="#e6001a" stroke="#5a0000" stroke-width="0.6"/><circle cx="233.4" cy="208.2" r="2.6" fill="#e6001a" stroke="#5a0000" stroke-width="0.6"/><circle cx="236.3" cy="228.4" r="2.6" fill="#e6001a" stroke="#5a0000" stroke-width="0.6"/><circle cx="238.6" cy="234" r="2.6" fill="#e6001a" stroke="#5a0000" stroke-width="0.6"/><circle cx="240.8" cy="236.3" r="2.6" fill="#e6001a" stroke="#5a0000" stroke-width="0.6"/><circle cx="245.8" cy="249.7" r="2.6" fill="#e6001a" stroke="#5a0000" stroke-width="0.6"/><circle cx="252" cy="253.1" r="2.6" fill="#e6001a" stroke="#5a0000" stroke-width="0.6"/><circle cx="252.9" cy="221" r="2.6" fill="#e6001a" stroke="#5a0000" stroke-width="0.6"/><circle cx="254.1" cy="186.5" r="2.6" fill="#e6001a" stroke="#5a0000" stroke-width="0.6"/><circle cx="263" cy="221.7" r="2.6" fill="#e6001a" stroke="#5a0000" stroke-width="0.6"/><circle cx="270.9" cy="236.3" r="2.6" fill="#e6001a" stroke="#5a0000" stroke-width="0.6"/><circle cx="278.7" cy="238.1" r="2.6" fill="#e6001a" stroke="#5a0000" stroke-width="0.6"/><polyline points="59,259.8 64.1,260.3 65.3,190.3 67.3,184.7 72,236.3 76.5,247.9 84.3,257.1 88.8,259.4 98.7,260.3 103.2,262.7 108.3,265.9 109.4,258 110.6,255.3 129.2,261.4 135.9,267.2 143.1,270.4 151.4,272.6 158.3,258 161.5,255.3 167.5,254.2 195.3,267.7 202,262.1 204.9,262.1 207.6,262.5 209.9,263.2 229.4,263.2 230.1,230 231.8,188.7 233.4,208.2 236.3,228.4 238.6,234 240.8,236.3 245.8,249.7 252,253.1 252.9,221 254.1,186.5 263,221.7 270.9,236.3 278.7,238.1" fill="none" stroke="#111" stroke-width="0.8" stroke-linejoin="round"/><path d="M59,235.51L61.86,240.71L56.14,240.71Z" fill="#0b6a48" stroke="#0a2a18" stroke-width="0.6"/><path d="M64.1,238.21L66.96,243.41L61.24,243.41Z" fill="#0b6a48" stroke="#0a2a18" stroke-width="0.6"/><path d="M66.2,225.41L69.06,230.61L63.34,230.61Z" fill="#0b6a48" stroke="#0a2a18" stroke-width="0.6"/><path d="M67.3,187.31L70.16,192.51L64.44,192.51Z" fill="#0b6a48" stroke="#0a2a18" stroke-width="0.6"/><path d="M67.9,195.11L70.76,200.31L65.04,200.31Z" fill="#0b6a48" stroke="#0a2a18" stroke-width="0.6"/><path d="M72,210.81L74.86,216.01L69.14,216.01Z" fill="#0b6a48" stroke="#0a2a18" stroke-width="0.6"/><path d="M76.5,233.31L79.36,238.51L73.64,238.51Z" fill="#0b6a48" stroke="#0a2a18" stroke-width="0.6"/><path d="M84.3,233.31L87.16,238.51L81.44,238.51Z" fill="#0b6a48" stroke="#0a2a18" stroke-width="0.6"/><path d="M88.8,235.11L91.66,240.31L85.94,240.31Z" fill="#0b6a48" stroke="#0a2a18" stroke-width="0.6"/><path d="M98.7,237.11L101.56,242.31L95.84,242.31Z" fill="#0b6a48" stroke="#0a2a18" stroke-width="0.6"/><path d="M103.2,237.11L106.06,242.31L100.34,242.31Z" fill="#0b6a48" stroke="#0a2a18" stroke-width="0.6"/><path d="M108.3,240.41L111.16,245.61L105.44,245.61Z" fill="#0b6a48" stroke="#0a2a18" stroke-width="0.6"/><path d="M109.4,236.61L112.26,241.81L106.54,241.81Z" fill="#0b6a48" stroke="#0a2a18" stroke-width="0.6"/><path d="M110.6,235.11L113.46,240.31L107.74,240.31Z" fill="#0b6a48" stroke="#0a2a18" stroke-width="0.6"/><path d="M129.2,231.71L132.06,236.91L126.34,236.91Z" fill="#0b6a48" stroke="#0a2a18" stroke-width="0.6"/><path d="M135.9,235.51L138.76,240.71L133.04,240.71Z" fill="#0b6a48" stroke="#0a2a18" stroke-width="0.6"/><path d="M143.1,241.11L145.96,246.31L140.24,246.31Z" fill="#0b6a48" stroke="#0a2a18" stroke-width="0.6"/><path d="M151.4,245.61L154.26,250.81L148.54,250.81Z" fill="#0b6a48" stroke="#0a2a18" stroke-width="0.6"/><path d="M158.8,242.91L161.66,248.11L155.94,248.11Z" fill="#0b6a48" stroke="#0a2a18" stroke-width="0.6"/><path d="M161.5,247.81L164.36,253.01L158.64,253.01Z" fill="#0b6a48" stroke="#0a2a18" stroke-width="0.6"/><path d="M167.7,249.81L170.56,255.01L164.84,255.01Z" fill="#0b6a48" stroke="#0a2a18" stroke-width="0.6"/><path d="M195.3,250.81L198.16,256.01L192.44,256.01Z" fill="#0b6a48" stroke="#0a2a18" stroke-width="0.6"/><path d="M202,249.41L204.86,254.61L199.14,254.61Z" fill="#0b6a48" stroke="#0a2a18" stroke-width="0.6"/><path d="M203.1,246.71L205.96,251.91L200.24,251.91Z" fill="#0b6a48" stroke="#0a2a18" stroke-width="0.6"/><path d="M204.9,244.51L207.76,249.71L202.04,249.71Z" fill="#0b6a48" stroke="#0a2a18" stroke-width="0.6"/><path d="M206.5,242.71L209.36,247.91L203.64,247.91Z" fill="#0b6a48" stroke="#0a2a18" stroke-width="0.6"/><path d="M209.4,242.71L212.26,247.91L206.54,247.91Z" fill="#0b6a48" stroke="#0a2a18" stroke-width="0.6"/><path d="M229.4,244.01L232.26,249.21L226.54,249.21Z" fill="#0b6a48" stroke="#0a2a18" stroke-width="0.6"/><path d="M231.2,213.81L234.06,219.01L228.34,219.01Z" fill="#0b6a48" stroke="#0a2a18" stroke-width="0.6"/><path d="M233,188.41L235.86,193.61L230.14,193.61Z" fill="#0b6a48" stroke="#0a2a18" stroke-width="0.6"/><path d="M234.5,188.41L237.36,193.61L231.64,193.61Z" fill="#0b6a48" stroke="#0a2a18" stroke-width="0.6"/><path d="M236.8,219.81L239.66,225.01L233.94,225.01Z" fill="#0b6a48" stroke="#0a2a18" stroke-width="0.6"/><path d="M239.7,220.91L242.56,226.11L236.84,226.11Z" fill="#0b6a48" stroke="#0a2a18" stroke-width="0.6"/><path d="M241.3,222.01L244.16,227.21L238.44,227.21Z" fill="#0b6a48" stroke="#0a2a18" stroke-width="0.6"/><path d="M245.8,224.31L248.66,229.51L242.94,229.51Z" fill="#0b6a48" stroke="#0a2a18" stroke-width="0.6"/><path d="M251.4,229.91L254.26,235.11L248.54,235.11Z" fill="#0b6a48" stroke="#0a2a18" stroke-width="0.6"/><path d="M254.1,234.41L256.96,239.61L251.24,239.61Z" fill="#0b6a48" stroke="#0a2a18" stroke-width="0.6"/><path d="M254.7,185.71L257.56,190.91L251.84,190.91Z" fill="#0b6a48" stroke="#0a2a18" stroke-width="0.6"/><path d="M262.6,222.01L265.46,227.21L259.74,227.21Z" fill="#0b6a48" stroke="#0a2a18" stroke-width="0.6"/><path d="M270.9,223.21L273.76,228.41L268.04,228.41Z" fill="#0b6a48" stroke="#0a2a18" stroke-width="0.6"/><path d="M278.7,224.31L281.56,229.51L275.84,229.51Z" fill="#0b6a48" stroke="#0a2a18" stroke-width="0.6"/><polyline points="59,238.5 64.1,241.2 66.2,228.4 67.3,190.3 67.9,198.1 72,213.8 76.5,236.3 84.3,236.3 88.8,238.1 98.7,240.1 103.2,240.1 108.3,243.4 109.4,239.6 110.6,238.1 129.2,234.7 135.9,238.5 143.1,244.1 151.4,248.6 158.8,245.9 161.5,250.8 167.7,252.8 195.3,253.8 202,252.4 203.1,249.7 204.9,247.5 206.5,245.7 209.4,245.7 229.4,247 231.2,216.8 233,191.4 234.5,191.4 236.8,222.8 239.7,223.9 241.3,225 245.8,227.3 251.4,232.9 254.1,237.4 254.7,188.7 262.6,225 270.9,226.2 278.7,227.3" fill="none" stroke="#111" stroke-width="0.8" stroke-linejoin="round"/><rect x="56.8" y="220.6" width="4.4" height="4.4" fill="#46b4cc" stroke="#236a80" stroke-width="0.6"/><rect x="61.9" y="222.4" width="4.4" height="4.4" fill="#46b4cc" stroke="#236a80" stroke-width="0.6"/><rect x="63.1" y="231.8" width="4.4" height="4.4" fill="#46b4cc" stroke="#236a80" stroke-width="0.6"/><rect x="64" y="211.6" width="4.4" height="4.4" fill="#46b4cc" stroke="#236a80" stroke-width="0.6"/><rect x="65.7" y="191.9" width="4.4" height="4.4" fill="#46b4cc" stroke="#236a80" stroke-width="0.6"/><rect x="70.2" y="191.9" width="4.4" height="4.4" fill="#46b4cc" stroke="#236a80" stroke-width="0.6"/><rect x="74.3" y="212.3" width="4.4" height="4.4" fill="#46b4cc" stroke="#236a80" stroke-width="0.6"/><rect x="82.1" y="206" width="4.4" height="4.4" fill="#46b4cc" stroke="#236a80" stroke-width="0.6"/><rect x="86.6" y="208.3" width="4.4" height="4.4" fill="#46b4cc" stroke="#236a80" stroke-width="0.6"/><rect x="96.5" y="217.9" width="4.4" height="4.4" fill="#46b4cc" stroke="#236a80" stroke-width="0.6"/><rect x="101" y="197.7" width="4.4" height="4.4" fill="#46b4cc" stroke="#236a80" stroke-width="0.6"/><rect x="106.1" y="191.4" width="4.4" height="4.4" fill="#46b4cc" stroke="#236a80" stroke-width="0.6"/><rect x="108.4" y="192.1" width="4.4" height="4.4" fill="#46b4cc" stroke="#236a80" stroke-width="0.6"/><rect x="127" y="198.8" width="4.4" height="4.4" fill="#46b4cc" stroke="#236a80" stroke-width="0.6"/><rect x="133.7" y="199.7" width="4.4" height="4.4" fill="#46b4cc" stroke="#236a80" stroke-width="0.6"/><rect x="140.9" y="200.4" width="4.4" height="4.4" fill="#46b4cc" stroke="#236a80" stroke-width="0.6"/><rect x="149.2" y="202" width="4.4" height="4.4" fill="#46b4cc" stroke="#236a80" stroke-width="0.6"/><rect x="156.1" y="203.3" width="4.4" height="4.4" fill="#46b4cc" stroke="#236a80" stroke-width="0.6"/><rect x="159.3" y="205.4" width="4.4" height="4.4" fill="#46b4cc" stroke="#236a80" stroke-width="0.6"/><rect x="165.3" y="206" width="4.4" height="4.4" fill="#46b4cc" stroke="#236a80" stroke-width="0.6"/><rect x="193.1" y="204.9" width="4.4" height="4.4" fill="#46b4cc" stroke="#236a80" stroke-width="0.6"/><rect x="199.8" y="204.9" width="4.4" height="4.4" fill="#46b4cc" stroke="#236a80" stroke-width="0.6"/><rect x="202.7" y="206" width="4.4" height="4.4" fill="#46b4cc" stroke="#236a80" stroke-width="0.6"/><rect x="205.4" y="207.1" width="4.4" height="4.4" fill="#46b4cc" stroke="#236a80" stroke-width="0.6"/><rect x="207.7" y="208.3" width="4.4" height="4.4" fill="#46b4cc" stroke="#236a80" stroke-width="0.6"/><rect x="227.2" y="208.3" width="4.4" height="4.4" fill="#46b4cc" stroke="#236a80" stroke-width="0.6"/><rect x="229.6" y="208.3" width="4.4" height="4.4" fill="#46b4cc" stroke="#236a80" stroke-width="0.6"/><rect x="232.3" y="207.6" width="4.4" height="4.4" fill="#46b4cc" stroke="#236a80" stroke-width="0.6"/><rect x="235" y="207.6" width="4.4" height="4.4" fill="#46b4cc" stroke="#236a80" stroke-width="0.6"/><rect x="238.4" y="208.3" width="4.4" height="4.4" fill="#46b4cc" stroke="#236a80" stroke-width="0.6"/><rect x="243.6" y="211.2" width="4.4" height="4.4" fill="#46b4cc" stroke="#236a80" stroke-width="0.6"/><rect x="249.2" y="211.6" width="4.4" height="4.4" fill="#46b4cc" stroke="#236a80" stroke-width="0.6"/><rect x="250.3" y="200.9" width="4.4" height="4.4" fill="#46b4cc" stroke="#236a80" stroke-width="0.6"/><rect x="252.5" y="191" width="4.4" height="4.4" fill="#46b4cc" stroke="#236a80" stroke-width="0.6"/><rect x="260.8" y="198.2" width="4.4" height="4.4" fill="#46b4cc" stroke="#236a80" stroke-width="0.6"/><rect x="269.4" y="191.9" width="4.4" height="4.4" fill="#46b4cc" stroke="#236a80" stroke-width="0.6"/><rect x="276.5" y="199.7" width="4.4" height="4.4" fill="#46b4cc" stroke="#236a80" stroke-width="0.6"/><polyline points="59,222.8 64.1,224.6 65.3,234 66.2,213.8 67.9,194.1 72.4,194.1 76.5,214.5 84.3,208.2 88.8,210.5 98.7,220.1 103.2,199.9 108.3,193.6 110.6,194.3 129.2,201 135.9,201.9 143.1,202.6 151.4,204.2 158.3,205.5 161.5,207.6 167.5,208.2 195.3,207.1 202,207.1 204.9,208.2 207.6,209.3 209.9,210.5 229.4,210.5 231.8,210.5 234.5,209.8 237.2,209.8 240.6,210.5 245.8,213.4 251.4,213.8 252.5,203.1 254.7,193.2 263,200.4 271.6,194.1 278.7,201.9" fill="none" stroke="#555" stroke-width="0.8" stroke-linejoin="round"/><rect x="63.2" y="380.68" width="3.2" height="82.92" fill="#000"/><rect x="107.2" y="449.78" width="3.2" height="13.82" fill="#000"/><rect x="156.1" y="453.23" width="3.2" height="10.37" fill="#000"/><rect x="201.5" y="453.23" width="3.2" height="10.37" fill="#000"/><rect x="228.5" y="380.68" width="3.2" height="82.92" fill="#000"/><rect x="250.9" y="380.68" width="3.2" height="82.92" fill="#000"/><circle cx="59" cy="429.2" r="2.6" fill="#e6001a" stroke="#5a0000" stroke-width="0.6"/><circle cx="64.1" cy="432.8" r="2.6" fill="#e6001a" stroke="#5a0000" stroke-width="0.6"/><circle cx="65.3" cy="415.3" r="2.6" fill="#e6001a" stroke="#5a0000" stroke-width="0.6"/><circle cx="66.2" cy="387.3" r="2.6" fill="#e6001a" stroke="#5a0000" stroke-width="0.6"/><circle cx="67.3" cy="359.9" r="2.6" fill="#e6001a" stroke="#5a0000" stroke-width="0.6"/><circle cx="67.9" cy="345.8" r="2.6" fill="#e6001a" stroke="#5a0000" stroke-width="0.6"/><circle cx="69.5" cy="335.3" r="2.6" fill="#e6001a" stroke="#5a0000" stroke-width="0.6"/><circle cx="72.4" cy="348.5" r="2.6" fill="#e6001a" stroke="#5a0000" stroke-width="0.6"/><circle cx="76.5" cy="371.6" r="2.6" fill="#e6001a" stroke="#5a0000" stroke-width="0.6"/><circle cx="82.5" cy="385" r="2.6" fill="#e6001a" stroke="#5a0000" stroke-width="0.6"/><circle cx="84.3" cy="407.9" r="2.6" fill="#e6001a" stroke="#5a0000" stroke-width="0.6"/><circle cx="88.8" cy="414.9" r="2.6" fill="#e6001a" stroke="#5a0000" stroke-width="0.6"/><circle cx="98.7" cy="425.9" r="2.6" fill="#e6001a" stroke="#5a0000" stroke-width="0.6"/><circle cx="103.2" cy="433.3" r="2.6" fill="#e6001a" stroke="#5a0000" stroke-width="0.6"/><circle cx="108.3" cy="437.3" r="2.6" fill="#e6001a" stroke="#5a0000" stroke-width="0.6"/><circle cx="109" cy="426.5" r="2.6" fill="#e6001a" stroke="#5a0000" stroke-width="0.6"/><circle cx="110.1" cy="414.2" r="2.6" fill="#e6001a" stroke="#5a0000" stroke-width="0.6"/><circle cx="129.6" cy="432.8" r="2.6" fill="#e6001a" stroke="#5a0000" stroke-width="0.6"/><circle cx="135.9" cy="442.7" r="2.6" fill="#e6001a" stroke="#5a0000" stroke-width="0.6"/><circle cx="143.1" cy="450.1" r="2.6" fill="#e6001a" stroke="#5a0000" stroke-width="0.6"/><circle cx="151.4" cy="452.8" r="2.6" fill="#e6001a" stroke="#5a0000" stroke-width="0.6"/><circle cx="158.8" cy="440.5" r="2.6" fill="#e6001a" stroke="#5a0000" stroke-width="0.6"/><circle cx="161.5" cy="423.6" r="2.6" fill="#e6001a" stroke="#5a0000" stroke-width="0.6"/><circle cx="167.5" cy="422.7" r="2.6" fill="#e6001a" stroke="#5a0000" stroke-width="0.6"/><circle cx="195.3" cy="429.5" r="2.6" fill="#e6001a" stroke="#5a0000" stroke-width="0.6"/><circle cx="202.5" cy="432.8" r="2.6" fill="#e6001a" stroke="#5a0000" stroke-width="0.6"/><circle cx="206.5" cy="415.8" r="2.6" fill="#e6001a" stroke="#5a0000" stroke-width="0.6"/><circle cx="209.9" cy="429.9" r="2.6" fill="#e6001a" stroke="#5a0000" stroke-width="0.6"/><circle cx="230.1" cy="422.7" r="2.6" fill="#e6001a" stroke="#5a0000" stroke-width="0.6"/><circle cx="231.2" cy="394.7" r="2.6" fill="#e6001a" stroke="#5a0000" stroke-width="0.6"/><circle cx="232.3" cy="378.8" r="2.6" fill="#e6001a" stroke="#5a0000" stroke-width="0.6"/><circle cx="234.1" cy="362.6" r="2.6" fill="#e6001a" stroke="#5a0000" stroke-width="0.6"/><circle cx="236.3" cy="342.4" r="2.6" fill="#e6001a" stroke="#5a0000" stroke-width="0.6"/><circle cx="238.6" cy="340.9" r="2.6" fill="#e6001a" stroke="#5a0000" stroke-width="0.6"/><circle cx="242" cy="378.8" r="2.6" fill="#e6001a" stroke="#5a0000" stroke-width="0.6"/><circle cx="245.3" cy="392.9" r="2.6" fill="#e6001a" stroke="#5a0000" stroke-width="0.6"/><circle cx="247.5" cy="420.5" r="2.6" fill="#e6001a" stroke="#5a0000" stroke-width="0.6"/><circle cx="252" cy="422.5" r="2.6" fill="#e6001a" stroke="#5a0000" stroke-width="0.6"/><circle cx="253.2" cy="381" r="2.6" fill="#e6001a" stroke="#5a0000" stroke-width="0.6"/><circle cx="254.1" cy="377.2" r="2.6" fill="#e6001a" stroke="#5a0000" stroke-width="0.6"/><circle cx="254.7" cy="367.6" r="2.6" fill="#e6001a" stroke="#5a0000" stroke-width="0.6"/><circle cx="257.6" cy="334.6" r="2.6" fill="#e6001a" stroke="#5a0000" stroke-width="0.6"/><circle cx="263" cy="381" r="2.6" fill="#e6001a" stroke="#5a0000" stroke-width="0.6"/><circle cx="268.2" cy="386.2" r="2.6" fill="#e6001a" stroke="#5a0000" stroke-width="0.6"/><circle cx="271.1" cy="405.9" r="2.6" fill="#e6001a" stroke="#5a0000" stroke-width="0.6"/><circle cx="278.7" cy="401.9" r="2.6" fill="#e6001a" stroke="#5a0000" stroke-width="0.6"/><polyline points="59,429.2 64.1,432.8 65.3,415.3 66.2,387.3 67.3,359.9 67.9,345.8 69.5,335.3 72.4,348.5 76.5,371.6 82.5,385 84.3,407.9 88.8,414.9 98.7,425.9 103.2,433.3 108.3,437.3 109,426.5 110.1,414.2 129.6,432.8 135.9,442.7 143.1,450.1 151.4,452.8 158.8,440.5 161.5,423.6 167.5,422.7 195.3,429.5 202.5,432.8 206.5,415.8 209.9,429.9 230.1,422.7 231.2,394.7 232.3,378.8 234.1,362.6 236.3,342.4 238.6,340.9 242,378.8 245.3,392.9 247.5,420.5 252,422.5 253.2,381 254.1,377.2 254.7,367.6 257.6,334.6 263,381 268.2,386.2 271.1,405.9 278.7,401.9" fill="none" stroke="#111" stroke-width="0.8" stroke-linejoin="round"/><path d="M59,388.81L61.86,394.01L56.14,394.01Z" fill="#f2e40c" stroke="#5a5000" stroke-width="0.6"/><path d="M64.1,390.61L66.96,395.81L61.24,395.81Z" fill="#f2e40c" stroke="#5a5000" stroke-width="0.6"/><path d="M66.8,392.11L69.66,397.31L63.94,397.31Z" fill="#f2e40c" stroke="#5a5000" stroke-width="0.6"/><path d="M67.9,367.51L70.76,372.71L65.04,372.71Z" fill="#f2e40c" stroke="#5a5000" stroke-width="0.6"/><path d="M70.6,342.81L73.46,348.01L67.74,348.01Z" fill="#f2e40c" stroke="#5a5000" stroke-width="0.6"/><path d="M72.4,341.21L75.26,346.41L69.54,346.41Z" fill="#f2e40c" stroke="#5a5000" stroke-width="0.6"/><path d="M76.5,341.21L79.36,346.41L73.64,346.41Z" fill="#f2e40c" stroke="#5a5000" stroke-width="0.6"/><path d="M83.2,343.51L86.06,348.71L80.34,348.71Z" fill="#f2e40c" stroke="#5a5000" stroke-width="0.6"/><path d="M84.3,366.81L87.16,372.01L81.44,372.01Z" fill="#f2e40c" stroke="#5a5000" stroke-width="0.6"/><path d="M88.8,375.81L91.66,381.01L85.94,381.01Z" fill="#f2e40c" stroke="#5a5000" stroke-width="0.6"/><path d="M98.7,411.21L101.56,416.41L95.84,416.41Z" fill="#f2e40c" stroke="#5a5000" stroke-width="0.6"/><path d="M103.2,411.21L106.06,416.41L100.34,416.41Z" fill="#f2e40c" stroke="#5a5000" stroke-width="0.6"/><path d="M108.3,419.11L111.16,424.31L105.44,424.31Z" fill="#f2e40c" stroke="#5a5000" stroke-width="0.6"/><path d="M109.4,426.21L112.26,431.41L106.54,431.41Z" fill="#f2e40c" stroke="#5a5000" stroke-width="0.6"/><path d="M129.6,413.51L132.46,418.71L126.74,418.71Z" fill="#f2e40c" stroke="#5a5000" stroke-width="0.6"/><path d="M135.9,416.81L138.76,422.01L133.04,422.01Z" fill="#f2e40c" stroke="#5a5000" stroke-width="0.6"/><path d="M143.1,424.21L145.96,429.41L140.24,429.41Z" fill="#f2e40c" stroke="#5a5000" stroke-width="0.6"/><path d="M151.4,426.51L154.26,431.71L148.54,431.71Z" fill="#f2e40c" stroke="#5a5000" stroke-width="0.6"/><path d="M158.8,425.81L161.66,431.01L155.94,431.01Z" fill="#f2e40c" stroke="#5a5000" stroke-width="0.6"/><path d="M161.5,429.21L164.36,434.41L158.64,434.41Z" fill="#f2e40c" stroke="#5a5000" stroke-width="0.6"/><path d="M167.5,416.41L170.36,421.61L164.64,421.61Z" fill="#f2e40c" stroke="#5a5000" stroke-width="0.6"/><path d="M195.3,413.91L198.16,419.11L192.44,419.11Z" fill="#f2e40c" stroke="#5a5000" stroke-width="0.6"/><path d="M202,417.91L204.86,423.11L199.14,423.11Z" fill="#f2e40c" stroke="#5a5000" stroke-width="0.6"/><path d="M203.6,421.31L206.46,426.51L200.74,426.51Z" fill="#f2e40c" stroke="#5a5000" stroke-width="0.6"/><path d="M204.9,415.71L207.76,420.91L202.04,420.91Z" fill="#f2e40c" stroke="#5a5000" stroke-width="0.6"/><path d="M208.7,414.61L211.56,419.81L205.84,419.81Z" fill="#f2e40c" stroke="#5a5000" stroke-width="0.6"/><path d="M229.6,409.01L232.46,414.21L226.74,414.21Z" fill="#f2e40c" stroke="#5a5000" stroke-width="0.6"/><path d="M230.1,433.61L232.96,438.81L227.24,438.81Z" fill="#f2e40c" stroke="#5a5000" stroke-width="0.6"/><path d="M231.2,398.91L234.06,404.11L228.34,404.11Z" fill="#f2e40c" stroke="#5a5000" stroke-width="0.6"/><path d="M233.4,406.71L236.26,411.91L230.54,411.91Z" fill="#f2e40c" stroke="#5a5000" stroke-width="0.6"/><path d="M237.9,341.71L240.76,346.91L235.04,346.91Z" fill="#f2e40c" stroke="#5a5000" stroke-width="0.6"/><path d="M241.3,345.01L244.16,350.21L238.44,350.21Z" fill="#f2e40c" stroke="#5a5000" stroke-width="0.6"/><path d="M244.6,359.61L247.46,364.81L241.74,364.81Z" fill="#f2e40c" stroke="#5a5000" stroke-width="0.6"/><path d="M245.8,389.91L248.66,395.11L242.94,395.11Z" fill="#f2e40c" stroke="#5a5000" stroke-width="0.6"/><path d="M250.2,388.81L253.06,394.01L247.34,394.01Z" fill="#f2e40c" stroke="#5a5000" stroke-width="0.6"/><path d="M252.5,383.21L255.36,388.41L249.64,388.41Z" fill="#f2e40c" stroke="#5a5000" stroke-width="0.6"/><path d="M253.6,386.51L256.46,391.71L250.74,391.71Z" fill="#f2e40c" stroke="#5a5000" stroke-width="0.6"/><path d="M257.4,343.91L260.26,349.11L254.54,349.11Z" fill="#f2e40c" stroke="#5a5000" stroke-width="0.6"/><path d="M260.3,345.01L263.16,350.21L257.44,350.21Z" fill="#f2e40c" stroke="#5a5000" stroke-width="0.6"/><path d="M262.6,349.51L265.46,354.71L259.74,354.71Z" fill="#f2e40c" stroke="#5a5000" stroke-width="0.6"/><path d="M268.2,377.11L271.06,382.31L265.34,382.31Z" fill="#f2e40c" stroke="#5a5000" stroke-width="0.6"/><path d="M270.4,391.51L273.26,396.71L267.54,396.71Z" fill="#f2e40c" stroke="#5a5000" stroke-width="0.6"/><path d="M278.7,391.01L281.56,396.21L275.84,396.21Z" fill="#f2e40c" stroke="#5a5000" stroke-width="0.6"/><polyline points="59,391.8 64.1,393.6 66.8,395.1 67.9,370.5 70.6,345.8 72.4,344.2 76.5,344.2 83.2,346.5 84.3,369.8 88.8,378.8 98.7,414.2 103.2,414.2 108.3,422.1 109.4,429.2 129.6,416.5 135.9,419.8 143.1,427.2 151.4,429.5 158.8,428.8 161.5,432.2 167.5,419.4 195.3,416.9 202,420.9 203.6,424.3 204.9,418.7 208.7,417.6 229.6,412 230.1,436.6 231.2,401.9 233.4,409.7 237.9,344.7 241.3,348 244.6,362.6 245.8,392.9 250.2,391.8 252.5,386.2 253.6,389.5 257.4,346.9 260.3,348 262.6,352.5 268.2,380.1 270.4,394.5 278.7,394" fill="none" stroke="#222" stroke-width="0.8" stroke-linejoin="round"/><rect x="56.7" y="371.5" width="4.6" height="4.6" fill="#858585" stroke="#505050" stroke-width="0.6"/><rect x="61.8" y="371.5" width="4.6" height="4.6" fill="#858585" stroke="#505050" stroke-width="0.6"/><rect x="65.6" y="370.4" width="4.6" height="4.6" fill="#858585" stroke="#505050" stroke-width="0.6"/><rect x="68.3" y="350.2" width="4.6" height="4.6" fill="#858585" stroke="#505050" stroke-width="0.6"/><rect x="70.1" y="349.1" width="4.6" height="4.6" fill="#858585" stroke="#505050" stroke-width="0.6"/><rect x="74.2" y="349.1" width="4.6" height="4.6" fill="#858585" stroke="#505050" stroke-width="0.6"/><rect x="80.2" y="349.1" width="4.6" height="4.6" fill="#858585" stroke="#505050" stroke-width="0.6"/><rect x="82.5" y="350.2" width="4.6" height="4.6" fill="#858585" stroke="#505050" stroke-width="0.6"/><rect x="86.5" y="359.2" width="4.6" height="4.6" fill="#858585" stroke="#505050" stroke-width="0.6"/><rect x="96.4" y="355.4" width="4.6" height="4.6" fill="#858585" stroke="#505050" stroke-width="0.6"/><rect x="100.9" y="362.6" width="4.6" height="4.6" fill="#858585" stroke="#505050" stroke-width="0.6"/><rect x="107.1" y="363.2" width="4.6" height="4.6" fill="#858585" stroke="#505050" stroke-width="0.6"/><rect x="127.3" y="361.4" width="4.6" height="4.6" fill="#858585" stroke="#505050" stroke-width="0.6"/><rect x="133.6" y="359.9" width="4.6" height="4.6" fill="#858585" stroke="#505050" stroke-width="0.6"/><rect x="140.8" y="363.2" width="4.6" height="4.6" fill="#858585" stroke="#505050" stroke-width="0.6"/><rect x="149.1" y="364.1" width="4.6" height="4.6" fill="#858585" stroke="#505050" stroke-width="0.6"/><rect x="156.5" y="364.1" width="4.6" height="4.6" fill="#858585" stroke="#505050" stroke-width="0.6"/><rect x="165.2" y="364.1" width="4.6" height="4.6" fill="#858585" stroke="#505050" stroke-width="0.6"/><rect x="193" y="364.8" width="4.6" height="4.6" fill="#858585" stroke="#505050" stroke-width="0.6"/><rect x="199.7" y="364.8" width="4.6" height="4.6" fill="#858585" stroke="#505050" stroke-width="0.6"/><rect x="202.6" y="364.8" width="4.6" height="4.6" fill="#858585" stroke="#505050" stroke-width="0.6"/><rect x="207.6" y="364.8" width="4.6" height="4.6" fill="#858585" stroke="#505050" stroke-width="0.6"/><rect x="227.3" y="365.3" width="4.6" height="4.6" fill="#858585" stroke="#505050" stroke-width="0.6"/><rect x="229.5" y="364.8" width="4.6" height="4.6" fill="#858585" stroke="#505050" stroke-width="0.6"/><rect x="232.2" y="363.7" width="4.6" height="4.6" fill="#858585" stroke="#505050" stroke-width="0.6"/><rect x="234.5" y="350.2" width="4.6" height="4.6" fill="#858585" stroke="#505050" stroke-width="0.6"/><rect x="238.5" y="349.1" width="4.6" height="4.6" fill="#858585" stroke="#505050" stroke-width="0.6"/><rect x="241.2" y="350.2" width="4.6" height="4.6" fill="#858585" stroke="#505050" stroke-width="0.6"/><rect x="244.6" y="357" width="4.6" height="4.6" fill="#858585" stroke="#505050" stroke-width="0.6"/><rect x="247.5" y="360.8" width="4.6" height="4.6" fill="#858585" stroke="#505050" stroke-width="0.6"/><rect x="250.6" y="361.4" width="4.6" height="4.6" fill="#858585" stroke="#505050" stroke-width="0.6"/><rect x="253.5" y="361.4" width="4.6" height="4.6" fill="#858585" stroke="#505050" stroke-width="0.6"/><rect x="254.7" y="350.2" width="4.6" height="4.6" fill="#858585" stroke="#505050" stroke-width="0.6"/><rect x="259.2" y="349.1" width="4.6" height="4.6" fill="#858585" stroke="#505050" stroke-width="0.6"/><rect x="261.4" y="351.3" width="4.6" height="4.6" fill="#858585" stroke="#505050" stroke-width="0.6"/><rect x="265.9" y="362.6" width="4.6" height="4.6" fill="#858585" stroke="#505050" stroke-width="0.6"/><rect x="269.3" y="363.2" width="4.6" height="4.6" fill="#858585" stroke="#505050" stroke-width="0.6"/><rect x="276.4" y="363.2" width="4.6" height="4.6" fill="#858585" stroke="#505050" stroke-width="0.6"/><polyline points="59,373.8 64.1,373.8 67.9,372.7 70.6,352.5 72.4,351.4 76.5,351.4 82.5,351.4 84.8,352.5 88.8,361.5 98.7,357.7 103.2,364.9 109.4,365.5 129.6,363.7 135.9,362.2 143.1,365.5 151.4,366.4 158.8,366.4 167.5,366.4 195.3,367.1 202,367.1 204.9,367.1 209.9,367.1 229.6,367.6 231.8,367.1 234.5,366 236.8,352.5 240.8,351.4 243.5,352.5 246.9,359.3 249.8,363.1 252.9,363.7 255.8,363.7 257,352.5 261.5,351.4 263.7,353.6 268.2,364.9 271.6,365.5 278.7,365.5" fill="none" stroke="#555" stroke-width="1" stroke-linejoin="round"/><rect x="63.2" y="539.28" width="3.2" height="82.92" fill="#000"/><rect x="107.2" y="608.38" width="3.2" height="13.82" fill="#000"/><rect x="156.1" y="611.84" width="3.2" height="10.37" fill="#000"/><rect x="201.5" y="611.84" width="3.2" height="10.37" fill="#000"/><rect x="228.5" y="539.28" width="3.2" height="82.92" fill="#000"/><rect x="250.9" y="539.28" width="3.2" height="82.92" fill="#000"/><circle cx="59" cy="588.4" r="2.6" fill="#e6001a" stroke="#5a0000" stroke-width="0.6"/><circle cx="64.1" cy="590.2" r="2.6" fill="#e6001a" stroke="#5a0000" stroke-width="0.6"/><circle cx="64.8" cy="572.2" r="2.6" fill="#e6001a" stroke="#5a0000" stroke-width="0.6"/><circle cx="66.2" cy="548.7" r="2.6" fill="#e6001a" stroke="#5a0000" stroke-width="0.6"/><circle cx="67.5" cy="534.1" r="2.6" fill="#e6001a" stroke="#5a0000" stroke-width="0.6"/><circle cx="67.9" cy="530" r="2.6" fill="#e6001a" stroke="#5a0000" stroke-width="0.6"/><circle cx="72" cy="498.9" r="2.6" fill="#e6001a" stroke="#5a0000" stroke-width="0.6"/><circle cx="90.8" cy="539.7" r="2.6" fill="#e6001a" stroke="#5a0000" stroke-width="0.6"/><circle cx="94.9" cy="551.6" r="2.6" fill="#e6001a" stroke="#5a0000" stroke-width="0.6"/><circle cx="98.9" cy="566.6" r="2.6" fill="#e6001a" stroke="#5a0000" stroke-width="0.6"/><circle cx="103.2" cy="574.9" r="2.6" fill="#e6001a" stroke="#5a0000" stroke-width="0.6"/><circle cx="108.8" cy="578.9" r="2.6" fill="#e6001a" stroke="#5a0000" stroke-width="0.6"/><circle cx="110.1" cy="572.2" r="2.6" fill="#e6001a" stroke="#5a0000" stroke-width="0.6"/><circle cx="129.6" cy="580.5" r="2.6" fill="#e6001a" stroke="#5a0000" stroke-width="0.6"/><circle cx="135.9" cy="590.2" r="2.6" fill="#e6001a" stroke="#5a0000" stroke-width="0.6"/><circle cx="143.1" cy="596.4" r="2.6" fill="#e6001a" stroke="#5a0000" stroke-width="0.6"/><circle cx="151.4" cy="598" r="2.6" fill="#e6001a" stroke="#5a0000" stroke-width="0.6"/><circle cx="158.8" cy="583.9" r="2.6" fill="#e6001a" stroke="#5a0000" stroke-width="0.6"/><circle cx="161.5" cy="586.8" r="2.6" fill="#e6001a" stroke="#5a0000" stroke-width="0.6"/><circle cx="167.5" cy="591.3" r="2.6" fill="#e6001a" stroke="#5a0000" stroke-width="0.6"/><circle cx="195.3" cy="591.3" r="2.6" fill="#e6001a" stroke="#5a0000" stroke-width="0.6"/><circle cx="202" cy="599.8" r="2.6" fill="#e6001a" stroke="#5a0000" stroke-width="0.6"/><circle cx="203.6" cy="603.6" r="2.6" fill="#e6001a" stroke="#5a0000" stroke-width="0.6"/><circle cx="205.4" cy="588.6" r="2.6" fill="#e6001a" stroke="#5a0000" stroke-width="0.6"/><circle cx="207.6" cy="593.5" r="2.6" fill="#e6001a" stroke="#5a0000" stroke-width="0.6"/><circle cx="209.9" cy="598" r="2.6" fill="#e6001a" stroke="#5a0000" stroke-width="0.6"/><circle cx="229.4" cy="599.6" r="2.6" fill="#e6001a" stroke="#5a0000" stroke-width="0.6"/><circle cx="229.6" cy="572.9" r="2.6" fill="#e6001a" stroke="#5a0000" stroke-width="0.6"/><circle cx="231.2" cy="557.2" r="2.6" fill="#e6001a" stroke="#5a0000" stroke-width="0.6"/><circle cx="232.3" cy="553.1" r="2.6" fill="#e6001a" stroke="#5a0000" stroke-width="0.6"/><circle cx="234.1" cy="547.5" r="2.6" fill="#e6001a" stroke="#5a0000" stroke-width="0.6"/><circle cx="236.3" cy="515" r="2.6" fill="#e6001a" stroke="#5a0000" stroke-width="0.6"/><circle cx="238.6" cy="501.1" r="2.6" fill="#e6001a" stroke="#5a0000" stroke-width="0.6"/><circle cx="240.6" cy="500.4" r="2.6" fill="#e6001a" stroke="#5a0000" stroke-width="0.6"/><circle cx="243.5" cy="525.6" r="2.6" fill="#e6001a" stroke="#5a0000" stroke-width="0.6"/><circle cx="245.8" cy="539" r="2.6" fill="#e6001a" stroke="#5a0000" stroke-width="0.6"/><circle cx="250.2" cy="576" r="2.6" fill="#e6001a" stroke="#5a0000" stroke-width="0.6"/><circle cx="252" cy="581.2" r="2.6" fill="#e6001a" stroke="#5a0000" stroke-width="0.6"/><circle cx="252.9" cy="538.6" r="2.6" fill="#e6001a" stroke="#5a0000" stroke-width="0.6"/><circle cx="257.6" cy="499.3" r="2.6" fill="#e6001a" stroke="#5a0000" stroke-width="0.6"/><circle cx="263" cy="530" r="2.6" fill="#e6001a" stroke="#5a0000" stroke-width="0.6"/><circle cx="271.6" cy="544.8" r="2.6" fill="#e6001a" stroke="#5a0000" stroke-width="0.6"/><circle cx="278.7" cy="574.5" r="2.6" fill="#e6001a" stroke="#5a0000" stroke-width="0.6"/><polyline points="59,588.4 64.1,590.2 64.8,572.2 66.2,548.7 67.5,534.1 67.9,530 72,498.9 90.8,539.7 94.9,551.6 98.9,566.6 103.2,574.9 108.8,578.9 110.1,572.2 129.6,580.5 135.9,590.2 143.1,596.4 151.4,598 158.8,583.9 161.5,586.8 167.5,591.3 195.3,591.3 202,599.8 203.6,603.6 205.4,588.6 207.6,593.5 209.9,598 229.4,599.6 229.6,572.9 231.2,557.2 232.3,553.1 234.1,547.5 236.3,515 238.6,501.1 240.6,500.4 243.5,525.6 245.8,539 250.2,576 252,581.2 252.9,538.6 257.6,499.3 263,530 271.6,544.8 278.7,574.5" fill="none" stroke="#111" stroke-width="0.8" stroke-linejoin="round"/><path d="M59,554.61L61.86,559.81L56.14,559.81Z" fill="#561a66" stroke="#200828" stroke-width="0.6"/><path d="M64.1,562.51L66.96,567.71L61.24,567.71Z" fill="#561a66" stroke="#200828" stroke-width="0.6"/><path d="M65.3,569.21L68.16,574.41L62.44,574.41Z" fill="#561a66" stroke="#200828" stroke-width="0.6"/><path d="M67.5,569.21L70.36,574.41L64.64,574.41Z" fill="#561a66" stroke="#200828" stroke-width="0.6"/><path d="M68.4,559.81L71.26,565.01L65.54,565.01Z" fill="#561a66" stroke="#200828" stroke-width="0.6"/><path d="M72,503.71L74.86,508.91L69.14,508.91Z" fill="#561a66" stroke="#200828" stroke-width="0.6"/><path d="M76.5,500.11L79.36,505.31L73.64,505.31Z" fill="#561a66" stroke="#200828" stroke-width="0.6"/><path d="M90.8,500.11L93.66,505.31L87.94,505.31Z" fill="#561a66" stroke="#200828" stroke-width="0.6"/><path d="M94.4,505.71L97.26,510.91L91.54,510.91Z" fill="#561a66" stroke="#200828" stroke-width="0.6"/><path d="M98.7,535.61L101.56,540.81L95.84,540.81Z" fill="#561a66" stroke="#200828" stroke-width="0.6"/><path d="M103.2,543.41L106.06,548.61L100.34,548.61Z" fill="#561a66" stroke="#200828" stroke-width="0.6"/><path d="M108.8,556.91L111.66,562.11L105.94,562.11Z" fill="#561a66" stroke="#200828" stroke-width="0.6"/><path d="M110.1,558.01L112.96,563.21L107.24,563.21Z" fill="#561a66" stroke="#200828" stroke-width="0.6"/><path d="M129.6,562.51L132.46,567.71L126.74,567.71Z" fill="#561a66" stroke="#200828" stroke-width="0.6"/><path d="M135.9,565.21L138.76,570.41L133.04,570.41Z" fill="#561a66" stroke="#200828" stroke-width="0.6"/><path d="M143.8,572.61L146.66,577.81L140.94,577.81Z" fill="#561a66" stroke="#200828" stroke-width="0.6"/><path d="M151.4,573.71L154.26,578.91L148.54,578.91Z" fill="#561a66" stroke="#200828" stroke-width="0.6"/><path d="M158.8,574.41L161.66,579.61L155.94,579.61Z" fill="#561a66" stroke="#200828" stroke-width="0.6"/><path d="M161.5,574.81L164.36,580.01L158.64,580.01Z" fill="#561a66" stroke="#200828" stroke-width="0.6"/><path d="M167.5,575.61L170.36,580.81L164.64,580.81Z" fill="#561a66" stroke="#200828" stroke-width="0.6"/><path d="M195.3,576.61L198.16,581.81L192.44,581.81Z" fill="#561a66" stroke="#200828" stroke-width="0.6"/><path d="M202,577.71L204.86,582.91L199.14,582.91Z" fill="#561a66" stroke="#200828" stroke-width="0.6"/><path d="M204.9,577.71L207.76,582.91L202.04,582.91Z" fill="#561a66" stroke="#200828" stroke-width="0.6"/><path d="M207.6,577.71L210.46,582.91L204.74,582.91Z" fill="#561a66" stroke="#200828" stroke-width="0.6"/><path d="M209.9,578.21L212.76,583.41L207.04,583.41Z" fill="#561a66" stroke="#200828" stroke-width="0.6"/><path d="M229.4,558.01L232.26,563.21L226.54,563.21Z" fill="#561a66" stroke="#200828" stroke-width="0.6"/><path d="M230.1,580.41L232.96,585.61L227.24,585.61Z" fill="#561a66" stroke="#200828" stroke-width="0.6"/><path d="M232.3,580.41L235.16,585.61L229.44,585.61Z" fill="#561a66" stroke="#200828" stroke-width="0.6"/><path d="M234.5,558.01L237.36,563.21L231.64,563.21Z" fill="#561a66" stroke="#200828" stroke-width="0.6"/><path d="M236.3,541.81L239.16,547.01L233.44,547.01Z" fill="#561a66" stroke="#200828" stroke-width="0.6"/><path d="M239,501.91L241.86,507.11L236.14,507.11Z" fill="#561a66" stroke="#200828" stroke-width="0.6"/><path d="M242.4,501.91L245.26,507.11L239.54,507.11Z" fill="#561a66" stroke="#200828" stroke-width="0.6"/><path d="M244.6,503.71L247.46,508.91L241.74,508.91Z" fill="#561a66" stroke="#200828" stroke-width="0.6"/><path d="M250.2,550.11L253.06,555.31L247.34,555.31Z" fill="#561a66" stroke="#200828" stroke-width="0.6"/><path d="M253.6,549.71L256.46,554.91L250.74,554.91Z" fill="#561a66" stroke="#200828" stroke-width="0.6"/><path d="M255.8,550.11L258.66,555.31L252.94,555.31Z" fill="#561a66" stroke="#200828" stroke-width="0.6"/><path d="M257,517.61L259.86,522.81L254.14,522.81Z" fill="#561a66" stroke="#200828" stroke-width="0.6"/><path d="M263,501.51L265.86,506.71L260.14,506.71Z" fill="#561a66" stroke="#200828" stroke-width="0.6"/><path d="M271.6,503.01L274.46,508.21L268.74,508.21Z" fill="#561a66" stroke="#200828" stroke-width="0.6"/><path d="M278.7,547.91L281.56,553.11L275.84,553.11Z" fill="#561a66" stroke="#200828" stroke-width="0.6"/><polyline points="59,557.6 64.1,565.5 65.3,572.2 67.5,572.2 68.4,562.8 72,506.7 76.5,503.1 90.8,503.1 94.4,508.7 98.7,538.6 103.2,546.4 108.8,559.9 110.1,561 129.6,565.5 135.9,568.2 143.8,575.6 151.4,576.7 158.8,577.4 161.5,577.8 167.5,578.6 195.3,579.6 202,580.7 204.9,580.7 207.6,580.7 209.9,581.2 229.4,561 230.1,583.4 232.3,583.4 234.5,561 236.3,544.8 239,504.9 242.4,504.9 244.6,506.7 250.2,553.1 253.6,552.7 255.8,553.1 257,520.6 263,504.5 271.6,506 278.7,550.9" fill="none" stroke="#222" stroke-width="0.8" stroke-linejoin="round"/><rect x="56.7" y="515" width="4.6" height="4.6" fill="#a8479a" stroke="#5a1a50" stroke-width="0.6"/><rect x="61.8" y="520.6" width="4.6" height="4.6" fill="#a8479a" stroke="#5a1a50" stroke-width="0.6"/><rect x="63.9" y="518.8" width="4.6" height="4.6" fill="#a8479a" stroke="#5a1a50" stroke-width="0.6"/><rect x="65.2" y="516.1" width="4.6" height="4.6" fill="#a8479a" stroke="#5a1a50" stroke-width="0.6"/><rect x="70.1" y="516.1" width="4.6" height="4.6" fill="#a8479a" stroke="#5a1a50" stroke-width="0.6"/><rect x="74.2" y="508.9" width="4.6" height="4.6" fill="#a8479a" stroke="#5a1a50" stroke-width="0.6"/><rect x="88.5" y="508.9" width="4.6" height="4.6" fill="#a8479a" stroke="#5a1a50" stroke-width="0.6"/><rect x="92.6" y="508.2" width="4.6" height="4.6" fill="#a8479a" stroke="#5a1a50" stroke-width="0.6"/><rect x="96.4" y="515" width="4.6" height="4.6" fill="#a8479a" stroke="#5a1a50" stroke-width="0.6"/><rect x="100.9" y="516.1" width="4.6" height="4.6" fill="#a8479a" stroke="#5a1a50" stroke-width="0.6"/><rect x="105.3" y="517.9" width="4.6" height="4.6" fill="#a8479a" stroke="#5a1a50" stroke-width="0.6"/><rect x="107.1" y="521.2" width="4.6" height="4.6" fill="#a8479a" stroke="#5a1a50" stroke-width="0.6"/><rect x="108.3" y="522.8" width="4.6" height="4.6" fill="#a8479a" stroke="#5a1a50" stroke-width="0.6"/><rect x="127.3" y="523.3" width="4.6" height="4.6" fill="#a8479a" stroke="#5a1a50" stroke-width="0.6"/><rect x="134.1" y="520.1" width="4.6" height="4.6" fill="#a8479a" stroke="#5a1a50" stroke-width="0.6"/><rect x="140.8" y="520.1" width="4.6" height="4.6" fill="#a8479a" stroke="#5a1a50" stroke-width="0.6"/><rect x="149.1" y="521.7" width="4.6" height="4.6" fill="#a8479a" stroke="#5a1a50" stroke-width="0.6"/><rect x="156.5" y="522.4" width="4.6" height="4.6" fill="#a8479a" stroke="#5a1a50" stroke-width="0.6"/><rect x="165.2" y="522.4" width="4.6" height="4.6" fill="#a8479a" stroke="#5a1a50" stroke-width="0.6"/><rect x="193" y="523.5" width="4.6" height="4.6" fill="#a8479a" stroke="#5a1a50" stroke-width="0.6"/><rect x="199.7" y="523.5" width="4.6" height="4.6" fill="#a8479a" stroke="#5a1a50" stroke-width="0.6"/><rect x="202.6" y="523.5" width="4.6" height="4.6" fill="#a8479a" stroke="#5a1a50" stroke-width="0.6"/><rect x="205.3" y="523.5" width="4.6" height="4.6" fill="#a8479a" stroke="#5a1a50" stroke-width="0.6"/><rect x="207.6" y="523.9" width="4.6" height="4.6" fill="#a8479a" stroke="#5a1a50" stroke-width="0.6"/><rect x="227.1" y="523.9" width="4.6" height="4.6" fill="#a8479a" stroke="#5a1a50" stroke-width="0.6"/><rect x="228.9" y="522.4" width="4.6" height="4.6" fill="#a8479a" stroke="#5a1a50" stroke-width="0.6"/><rect x="231.8" y="521.7" width="4.6" height="4.6" fill="#a8479a" stroke="#5a1a50" stroke-width="0.6"/><rect x="235.6" y="521.7" width="4.6" height="4.6" fill="#a8479a" stroke="#5a1a50" stroke-width="0.6"/><rect x="236.7" y="507.1" width="4.6" height="4.6" fill="#a8479a" stroke="#5a1a50" stroke-width="0.6"/><rect x="239" y="507.1" width="4.6" height="4.6" fill="#a8479a" stroke="#5a1a50" stroke-width="0.6"/><rect x="242.3" y="507.1" width="4.6" height="4.6" fill="#a8479a" stroke="#5a1a50" stroke-width="0.6"/><rect x="247.9" y="514.5" width="4.6" height="4.6" fill="#a8479a" stroke="#5a1a50" stroke-width="0.6"/><rect x="250.9" y="515.6" width="4.6" height="4.6" fill="#a8479a" stroke="#5a1a50" stroke-width="0.6"/><rect x="253.5" y="515.6" width="4.6" height="4.6" fill="#a8479a" stroke="#5a1a50" stroke-width="0.6"/><rect x="255.8" y="526.2" width="4.6" height="4.6" fill="#a8479a" stroke="#5a1a50" stroke-width="0.6"/><rect x="260.7" y="507.1" width="4.6" height="4.6" fill="#a8479a" stroke="#5a1a50" stroke-width="0.6"/><rect x="269.3" y="507.1" width="4.6" height="4.6" fill="#a8479a" stroke="#5a1a50" stroke-width="0.6"/><rect x="276.4" y="512" width="4.6" height="4.6" fill="#a8479a" stroke="#5a1a50" stroke-width="0.6"/><polyline points="59,517.3 64.1,522.9 66.2,521.1 67.5,518.4 72.4,518.4 76.5,511.2 90.8,511.2 94.9,510.5 98.7,517.3 103.2,518.4 107.6,520.2 109.4,523.5 110.6,525.1 129.6,525.6 136.4,522.4 143.1,522.4 151.4,524 158.8,524.7 167.5,524.7 195.3,525.8 202,525.8 204.9,525.8 207.6,525.8 209.9,526.2 229.4,526.2 231.2,524.7 234.1,524 237.9,524 239,509.4 241.3,509.4 244.6,509.4 250.2,516.8 253.2,517.9 255.8,517.9 258.1,528.5 263,509.4 271.6,509.4 278.7,514.3" fill="none" stroke="#333" stroke-width="0.8" stroke-linejoin="round"/><text x="62.91" y="21.83" font-size="13.2" letter-spacing="0.85" fill="#000">(a)</text><circle cx="108.7" cy="17.5" r="2.6" fill="#e6001a" stroke="#5a0000" stroke-width="0.6"/><line x1="97.2" y1="17.5" x2="120.2" y2="17.5" stroke="#111" stroke-width="1" stroke-linecap="butt"/><text x="122.05" y="21.82" font-size="13.2" letter-spacing="0.41" fill="#000">10cm</text><path d="M184,14.51L186.86,19.71L181.14,19.71Z" fill="#6cb444" stroke="#2a4a10" stroke-width="0.6"/><line x1="172.9" y1="17.5" x2="195.1" y2="17.5" stroke="#333" stroke-width="1" stroke-linecap="butt"/><text x="198.81" y="21.81" font-size="13.2" letter-spacing="0.35" fill="#000">25cm</text><rect x="106.2" y="30.4" width="5" height="5" fill="#0a52a8" stroke="#03285a" stroke-width="0.6"/><line x1="97.2" y1="32.9" x2="120.2" y2="32.9" stroke="#999" stroke-width="1.8" stroke-linecap="butt"/><text x="122.94" y="37.42" font-size="13.2" letter-spacing="0.11" fill="#000">40cm</text><text x="72.91" y="179.88" font-size="13.2" letter-spacing="0.6" fill="#000">(c)</text><circle cx="106.95" cy="176.3" r="2.6" fill="#e6001a" stroke="#5a0000" stroke-width="0.6"/><line x1="96.1" y1="176.3" x2="117.8" y2="176.3" stroke="#111" stroke-width="1" stroke-linecap="butt"/><text x="120.05" y="180.17" font-size="13.2" letter-spacing="-0.26" fill="#000">10cm</text><path d="M169.65,173.31L172.51,178.51L166.79,178.51Z" fill="#0b6a48" stroke="#0a2a18" stroke-width="0.6"/><line x1="158.4" y1="176.3" x2="180.9" y2="176.3" stroke="#111" stroke-width="1" stroke-linecap="butt"/><text x="183.74" y="180.11" font-size="13.2" letter-spacing="-0.09" fill="#000">55cm</text><rect x="226.3" y="173.8" width="5" height="5" fill="#46b4cc" stroke="#236a80" stroke-width="0.6"/><line x1="217.9" y1="176.3" x2="239.7" y2="176.3" stroke="#888" stroke-width="1.4" stroke-linecap="butt"/><text x="242.17" y="180.17" font-size="13.2" letter-spacing="0.03" fill="#000">90cm</text><text x="87.01" y="341.83" font-size="13.2" letter-spacing="1.3" fill="#000">(e)</text><circle cx="122.55" cy="337.3" r="2.6" fill="#e6001a" stroke="#5a0000" stroke-width="0.6"/><line x1="111.9" y1="337.3" x2="133.2" y2="337.3" stroke="#111" stroke-width="1" stroke-linecap="butt"/><text x="135.34" y="341.57" font-size="13.2" letter-spacing="-0.03" fill="#000">10cm</text><path d="M182.6,334.31L185.46,339.51L179.74,339.51Z" fill="#f2e40c" stroke="#5a5000" stroke-width="0.6"/><line x1="171.5" y1="337.3" x2="193.7" y2="337.3" stroke="#222" stroke-width="1" stroke-linecap="butt"/><text x="197.24" y="341.57" font-size="13.2" letter-spacing="-0.06" fill="#000">70cm</text><rect x="120.05" y="351.4" width="5" height="5" fill="#858585" stroke="#505050" stroke-width="0.6"/><line x1="111.9" y1="353.9" x2="133.2" y2="353.9" stroke="#555" stroke-width="1.2" stroke-linecap="butt"/><text x="135.34" y="358.37" font-size="13.2" letter-spacing="-0.07" fill="#000">130cm</text><text x="96.71" y="499.12" font-size="13.2" letter-spacing="0.94" fill="#000">(g)</text><circle cx="131.7" cy="492.5" r="2.6" fill="#e6001a" stroke="#5a0000" stroke-width="0.6"/><line x1="120.2" y1="492.5" x2="143.2" y2="492.5" stroke="#111" stroke-width="1" stroke-linecap="butt"/><text x="144.24" y="497.07" font-size="13.2" letter-spacing="0.04" fill="#000">10cm</text><path d="M194.25,489.51L197.11,494.71L191.39,494.71Z" fill="#561a66" stroke="#200828" stroke-width="0.6"/><line x1="183.2" y1="492.5" x2="205.3" y2="492.5" stroke="#222" stroke-width="1" stroke-linecap="butt"/><text x="208.04" y="497.07" font-size="13.2" letter-spacing="0.03" fill="#000">110cm</text><rect x="129.45" y="506.6" width="5" height="5" fill="#a8479a" stroke="#5a1a50" stroke-width="0.6"/><line x1="120.7" y1="509.1" x2="143.2" y2="509.1" stroke="#333" stroke-width="1" stroke-linecap="butt"/><text x="148.41" y="513.72" font-size="13.2" letter-spacing="-0.29" fill="#000">210cm</text><text x="28.96" y="648.1" font-size="16.5" letter-spacing="0.55" fill="#000">2013/10/7</text><text x="124.26" y="648.1" font-size="16.5" letter-spacing="0.35" fill="#000">2014/1/7</text><text x="212.96" y="648.1" font-size="16.5" letter-spacing="0.53" fill="#000">2014/4/7</text><text x="151.02" y="668.06" font-size="16" letter-spacing="0.7" fill="#000">Date</text><rect x="363.5" y="6.6" width="107.1" height="142" fill="none" stroke="#555" stroke-width="1"/><line x1="468.6" y1="6.6" x2="472.1" y2="6.6" stroke="#555" stroke-width="1" stroke-linecap="butt"/><text x="479.68" y="13.46" font-size="16.5" letter-spacing="0.2" text-anchor="start" fill="#000">0.0</text><line x1="468.6" y1="53.93" x2="472.1" y2="53.93" stroke="#555" stroke-width="1" stroke-linecap="butt"/><text x="479.68" y="61.3" font-size="16.5" letter-spacing="0.2" text-anchor="start" fill="#000">0.2</text><line x1="468.6" y1="101.27" x2="472.1" y2="101.27" stroke="#555" stroke-width="1" stroke-linecap="butt"/><text x="479.68" y="108.63" font-size="16.5" letter-spacing="0.2" text-anchor="start" fill="#000">0.4</text><line x1="468.6" y1="148.6" x2="472.1" y2="148.6" stroke="#555" stroke-width="1" stroke-linecap="butt"/><text x="479.68" y="151.66" font-size="16.5" letter-spacing="0.2" text-anchor="start" fill="#000">0.6</text><line x1="363.5" y1="148.6" x2="363.5" y2="151.1" stroke="#555" stroke-width="1" stroke-linecap="butt"/><line x1="417.05" y1="148.6" x2="417.05" y2="151.1" stroke="#555" stroke-width="1" stroke-linecap="butt"/><line x1="470.6" y1="148.6" x2="470.6" y2="151.1" stroke="#555" stroke-width="1" stroke-linecap="butt"/><line x1="363.5" y1="125.4" x2="470.6" y2="125.4" stroke="#4a4444" stroke-width="1" stroke-linecap="butt" stroke-dasharray="3.2,1.6"/><path d="M394.9,117.8L403.9,117.8L399.4,125Z" fill="none" stroke="#4a3e3e" stroke-width="1" stroke-linejoin="miter"/><line x1="393.8" y1="127.6" x2="405" y2="127.6" stroke="#4a3e3e" stroke-width="1.1" stroke-linecap="butt"/><line x1="396.6" y1="130.6" x2="402.2" y2="130.6" stroke="#4a3e3e" stroke-width="1.1" stroke-linecap="butt"/><text x="373.21" y="24.68" font-size="13.2" letter-spacing="0.39" fill="#000">(b)</text><text transform="translate(522.36,112.88) rotate(-90)" x="0" y="0" font-size="16" letter-spacing="0.47" fill="#000">Depth(m)</text><rect x="363.5" y="164" width="107.1" height="143.7" fill="none" stroke="#555" stroke-width="1"/><line x1="468.6" y1="164" x2="472.1" y2="164" stroke="#555" stroke-width="1" stroke-linecap="butt"/><text x="479.68" y="170.86" font-size="16.5" letter-spacing="0.2" text-anchor="start" fill="#000">0.0</text><line x1="468.6" y1="199.93" x2="472.1" y2="199.93" stroke="#555" stroke-width="1" stroke-linecap="butt"/><text x="479.68" y="207.29" font-size="16.5" letter-spacing="0.2" text-anchor="start" fill="#000">0.3</text><line x1="468.6" y1="235.85" x2="472.1" y2="235.85" stroke="#555" stroke-width="1" stroke-linecap="butt"/><text x="479.68" y="243.21" font-size="16.5" letter-spacing="0.2" text-anchor="start" fill="#000">0.6</text><line x1="468.6" y1="271.77" x2="472.1" y2="271.77" stroke="#555" stroke-width="1" stroke-linecap="butt"/><text x="479.68" y="279.14" font-size="16.5" letter-spacing="0.2" text-anchor="start" fill="#000">0.9</text><line x1="468.6" y1="307.7" x2="472.1" y2="307.7" stroke="#555" stroke-width="1" stroke-linecap="butt"/><text x="478.86" y="310.74" font-size="16.5" letter-spacing="0.2" text-anchor="start" fill="#000">1.2</text><line x1="363.5" y1="307.7" x2="363.5" y2="310.2" stroke="#555" stroke-width="1" stroke-linecap="butt"/><line x1="417.05" y1="307.7" x2="417.05" y2="310.2" stroke="#555" stroke-width="1" stroke-linecap="butt"/><line x1="470.6" y1="307.7" x2="470.6" y2="310.2" stroke="#555" stroke-width="1" stroke-linecap="butt"/><line x1="363.5" y1="284.3" x2="470.6" y2="284.3" stroke="#8a8080" stroke-width="1" stroke-linecap="butt" stroke-dasharray="3.2,1.6"/><path d="M394.9,276.7L403.9,276.7L399.4,283.9Z" fill="none" stroke="#4a3e3e" stroke-width="1" stroke-linejoin="miter"/><line x1="393.8" y1="286.5" x2="405" y2="286.5" stroke="#4a3e3e" stroke-width="1.1" stroke-linecap="butt"/><line x1="396.6" y1="289.5" x2="402.2" y2="289.5" stroke="#4a3e3e" stroke-width="1.1" stroke-linecap="butt"/><text x="369.31" y="181.08" font-size="13.2" letter-spacing="0.64" fill="#000">(d)</text><text transform="translate(519.56,263.28) rotate(-90)" x="0" y="0" font-size="16" letter-spacing="0.59" fill="#000">Depth(m)</text><rect x="363.5" y="323.1" width="107.1" height="143.1" fill="none" stroke="#555" stroke-width="1"/><line x1="468.6" y1="323.1" x2="472.1" y2="323.1" stroke="#555" stroke-width="1" stroke-linecap="butt"/><text x="479.68" y="329.96" font-size="16.5" letter-spacing="0.2" text-anchor="start" fill="#000">0.0</text><line x1="468.6" y1="358.88" x2="472.1" y2="358.88" stroke="#555" stroke-width="1" stroke-linecap="butt"/><text x="479.68" y="366.24" font-size="16.5" letter-spacing="0.2" text-anchor="start" fill="#000">0.4</text><line x1="468.6" y1="394.65" x2="472.1" y2="394.65" stroke="#555" stroke-width="1" stroke-linecap="butt"/><text x="479.68" y="402.01" font-size="16.5" letter-spacing="0.2" text-anchor="start" fill="#000">0.8</text><line x1="468.6" y1="430.43" x2="472.1" y2="430.43" stroke="#555" stroke-width="1" stroke-linecap="butt"/><text x="478.86" y="437.77" font-size="16.5" letter-spacing="0.2" text-anchor="start" fill="#000">1.2</text><line x1="468.6" y1="466.2" x2="472.1" y2="466.2" stroke="#555" stroke-width="1" stroke-linecap="butt"/><text x="478.86" y="469.24" font-size="16.5" letter-spacing="0.2" text-anchor="start" fill="#000">1.6</text><line x1="363.5" y1="466.2" x2="363.5" y2="468.7" stroke="#555" stroke-width="1" stroke-linecap="butt"/><line x1="417.05" y1="466.2" x2="417.05" y2="468.7" stroke="#555" stroke-width="1" stroke-linecap="butt"/><line x1="470.6" y1="466.2" x2="470.6" y2="468.7" stroke="#555" stroke-width="1" stroke-linecap="butt"/><line x1="363.5" y1="457.4" x2="470.6" y2="457.4" stroke="#3a3a3a" stroke-width="1" stroke-linecap="butt" stroke-dasharray="3.2,1.6"/><path d="M394.9,449.8L403.9,449.8L399.4,457Z" fill="none" stroke="#4a3e3e" stroke-width="1" stroke-linejoin="miter"/><line x1="393.8" y1="459.6" x2="405" y2="459.6" stroke="#4a3e3e" stroke-width="1.1" stroke-linecap="butt"/><line x1="396.6" y1="462.6" x2="402.2" y2="462.6" stroke="#4a3e3e" stroke-width="1.1" stroke-linecap="butt"/><text x="369.31" y="348.3" font-size="13.2" letter-spacing="0.59" fill="#000">(f)</text><text transform="translate(521.21,429.78) rotate(-90)" x="0" y="0" font-size="16" letter-spacing="0.68" fill="#000">Depth(m)</text><rect x="363.5" y="482.5" width="107.1" height="141.7" fill="none" stroke="#555" stroke-width="1"/><line x1="468.6" y1="482.5" x2="472.1" y2="482.5" stroke="#555" stroke-width="1" stroke-linecap="butt"/><text x="479.68" y="489.36" font-size="16.5" letter-spacing="0.2" text-anchor="start" fill="#000">0.0</text><line x1="468.6" y1="517.92" x2="472.1" y2="517.92" stroke="#555" stroke-width="1" stroke-linecap="butt"/><text x="479.68" y="525.29" font-size="16.5" letter-spacing="0.2" text-anchor="start" fill="#000">0.6</text><line x1="468.6" y1="553.35" x2="472.1" y2="553.35" stroke="#555" stroke-width="1" stroke-linecap="butt"/><text x="478.86" y="560.69" font-size="16.5" letter-spacing="0.2" text-anchor="start" fill="#000">1.2</text><line x1="468.6" y1="588.78" x2="472.1" y2="588.78" stroke="#555" stroke-width="1" stroke-linecap="butt"/><text x="478.86" y="596.14" font-size="16.5" letter-spacing="0.2" text-anchor="start" fill="#000">1.8</text><line x1="468.6" y1="624.2" x2="472.1" y2="624.2" stroke="#555" stroke-width="1" stroke-linecap="butt"/><text x="479.56" y="627.24" font-size="16.5" letter-spacing="0.2" text-anchor="start" fill="#000">2.4</text><line x1="363.5" y1="624.2" x2="363.5" y2="626.7" stroke="#555" stroke-width="1" stroke-linecap="butt"/><line x1="417.05" y1="624.2" x2="417.05" y2="626.7" stroke="#555" stroke-width="1" stroke-linecap="butt"/><line x1="470.6" y1="624.2" x2="470.6" y2="626.7" stroke="#555" stroke-width="1" stroke-linecap="butt"/><line x1="363.5" y1="612.7" x2="470.6" y2="612.7" stroke="#908484" stroke-width="1" stroke-linecap="butt" stroke-dasharray="3.2,1.6"/><path d="M394.9,605.1L403.9,605.1L399.4,612.3Z" fill="none" stroke="#4a3e3e" stroke-width="1" stroke-linejoin="miter"/><line x1="393.8" y1="614.9" x2="405" y2="614.9" stroke="#4a3e3e" stroke-width="1.1" stroke-linecap="butt"/><line x1="396.6" y1="617.9" x2="402.2" y2="617.9" stroke="#4a3e3e" stroke-width="1.1" stroke-linecap="butt"/><text x="366.91" y="500.98" font-size="13.2" letter-spacing="0.39" fill="#000">(h)</text><text transform="translate(524.76,584.48) rotate(-90)" x="0" y="0" font-size="16" letter-spacing="0.64" fill="#000">Depth(m)</text><line x1="452.9" y1="30.2" x2="448.6" y2="124.3" stroke="#222" stroke-width="1.2" stroke-linecap="butt"/><polyline points="418.7,30.2 424.5,65.5 445,100.8 448.6,124.6" fill="none" stroke="#e8001c" stroke-width="0.9" stroke-linejoin="round" stroke-dasharray="3,2"/><circle cx="418.7" cy="30.2" r="2.8" fill="#e8001c" stroke="#e8001c" stroke-width="0.5"/><circle cx="424.5" cy="65.5" r="2.8" fill="#e8001c" stroke="#e8001c" stroke-width="0.5"/><circle cx="445" cy="100.8" r="2.8" fill="#e8001c" stroke="#e8001c" stroke-width="0.5"/><circle cx="448.6" cy="124.6" r="2.8" fill="#e8001c" stroke="#e8001c" stroke-width="0.5"/><polyline points="436.8,30.2 428.9,65.5 442.6,100.8 448.6,124.6" fill="none" stroke="#1f5f9e" stroke-width="0.9" stroke-linejoin="round"/><path d="M436.8,26.86L439.99,32.66L433.61,32.66Z" fill="#fff" stroke="#1f5f9e" stroke-width="0.9"/><path d="M428.9,62.16L432.09,67.97L425.71,67.97Z" fill="#fff" stroke="#1f5f9e" stroke-width="0.9"/><path d="M442.6,97.47L445.79,103.27L439.41,103.27Z" fill="#fff" stroke="#1f5f9e" stroke-width="0.9"/><path d="M448.6,121.27L451.79,127.06L445.41,127.06Z" fill="#fff" stroke="#1f5f9e" stroke-width="0.9"/><polyline points="446.3,30.2 450.3,65.5 450.3,100.8 448.6,124.6" fill="none" stroke="#5bb034" stroke-width="0.9" stroke-linejoin="round" stroke-dasharray="3,2"/><path d="M446.3,27.07L449.43,30.2L446.3,33.33L443.18,30.2Z" fill="#5bb034" stroke="#5bb034" stroke-width="0.5"/><path d="M450.3,62.38L453.43,65.5L450.3,68.62L447.18,65.5Z" fill="#5bb034" stroke="#5bb034" stroke-width="0.5"/><path d="M450.3,97.67L453.43,100.8L450.3,103.92L447.18,100.8Z" fill="#5bb034" stroke="#5bb034" stroke-width="0.5"/><path d="M448.6,121.47L451.73,124.6L448.6,127.72L445.48,124.6Z" fill="#5bb034" stroke="#5bb034" stroke-width="0.5"/><polyline points="422.9,30.2 433.2,65.5 445,100.8 448.6,124.6" fill="none" stroke="#b04f9c" stroke-width="0.9" stroke-linejoin="round"/><rect x="420.2" y="27.5" width="5.4" height="5.4" fill="#b04f9c" stroke="#b04f9c" stroke-width="0.5"/><rect x="430.5" y="62.8" width="5.4" height="5.4" fill="#b04f9c" stroke="#b04f9c" stroke-width="0.5"/><rect x="442.3" y="98.1" width="5.4" height="5.4" fill="#b04f9c" stroke="#b04f9c" stroke-width="0.5"/><rect x="445.9" y="121.9" width="5.4" height="5.4" fill="#b04f9c" stroke="#b04f9c" stroke-width="0.5"/><line x1="458.2" y1="176.8" x2="449.2" y2="283.4" stroke="#222" stroke-width="1.2" stroke-linecap="butt"/><polyline points="397.5,176.8 399.9,194.6 405.8,212.5 411.5,230.4 413.3,248 436.3,271.7 449.2,283.6" fill="none" stroke="#e8001c" stroke-width="0.9" stroke-linejoin="round" stroke-dasharray="3,2"/><circle cx="397.5" cy="176.8" r="2.8" fill="#e8001c" stroke="#e8001c" stroke-width="0.5"/><circle cx="399.9" cy="194.6" r="2.8" fill="#e8001c" stroke="#e8001c" stroke-width="0.5"/><circle cx="405.8" cy="212.5" r="2.8" fill="#e8001c" stroke="#e8001c" stroke-width="0.5"/><circle cx="411.5" cy="230.4" r="2.8" fill="#e8001c" stroke="#e8001c" stroke-width="0.5"/><circle cx="413.3" cy="248" r="2.8" fill="#e8001c" stroke="#e8001c" stroke-width="0.5"/><circle cx="436.3" cy="271.7" r="2.8" fill="#e8001c" stroke="#e8001c" stroke-width="0.5"/><circle cx="449.2" cy="283.6" r="2.8" fill="#e8001c" stroke="#e8001c" stroke-width="0.5"/><polyline points="451.3,176.8 427.7,194.6 419.6,212.5 421.9,230.4 428.2,248 443.8,271.7 449.2,283.6" fill="none" stroke="#1f5f9e" stroke-width="0.9" stroke-linejoin="round"/><path d="M451.3,173.35L454.6,179.35L448,179.35Z" fill="#1f5f9e" stroke="#1f5f9e" stroke-width="0.5"/><path d="M427.7,191.15L431,197.15L424.4,197.15Z" fill="#1f5f9e" stroke="#1f5f9e" stroke-width="0.5"/><path d="M419.6,209.05L422.9,215.05L416.3,215.05Z" fill="#1f5f9e" stroke="#1f5f9e" stroke-width="0.5"/><path d="M421.9,226.95L425.2,232.95L418.6,232.95Z" fill="#1f5f9e" stroke="#1f5f9e" stroke-width="0.5"/><path d="M428.2,244.55L431.5,250.55L424.9,250.55Z" fill="#1f5f9e" stroke="#1f5f9e" stroke-width="0.5"/><path d="M443.8,268.25L447.1,274.25L440.5,274.25Z" fill="#1f5f9e" stroke="#1f5f9e" stroke-width="0.5"/><path d="M449.2,280.15L452.5,286.15L445.9,286.15Z" fill="#1f5f9e" stroke="#1f5f9e" stroke-width="0.5"/><polyline points="456.4,176.8 454.9,194.6 453.1,212.5 451,230.4 450.1,248 449.7,271.7 449.2,283.6" fill="none" stroke="#2a9a8e" stroke-width="0.9" stroke-linejoin="round"/><path d="M456.4,173.8L459.4,176.8L456.4,179.8L453.4,176.8Z" fill="#fff" stroke="#2a9a8e" stroke-width="0.8"/><path d="M454.9,191.6L457.9,194.6L454.9,197.6L451.9,194.6Z" fill="#fff" stroke="#2a9a8e" stroke-width="0.8"/><path d="M453.1,209.5L456.1,212.5L453.1,215.5L450.1,212.5Z" fill="#fff" stroke="#2a9a8e" stroke-width="0.8"/><path d="M451,227.4L454,230.4L451,233.4L448,230.4Z" fill="#fff" stroke="#2a9a8e" stroke-width="0.8"/><path d="M450.1,245L453.1,248L450.1,251L447.1,248Z" fill="#fff" stroke="#2a9a8e" stroke-width="0.8"/><path d="M449.7,268.7L452.7,271.7L449.7,274.7L446.7,271.7Z" fill="#fff" stroke="#2a9a8e" stroke-width="0.8"/><path d="M449.2,280.6L452.2,283.6L449.2,286.6L446.2,283.6Z" fill="#fff" stroke="#2a9a8e" stroke-width="0.8"/><polyline points="416.5,176.8 418.2,194.6 424.1,212.5 432.5,230.4 449.7,248 449.2,271.7 449.2,283.6" fill="none" stroke="#b04f9c" stroke-width="0.9" stroke-linejoin="round"/><rect x="413.8" y="174.1" width="5.4" height="5.4" fill="#b04f9c" stroke="#b04f9c" stroke-width="0.5"/><rect x="415.5" y="191.9" width="5.4" height="5.4" fill="#b04f9c" stroke="#b04f9c" stroke-width="0.5"/><rect x="421.4" y="209.8" width="5.4" height="5.4" fill="#b04f9c" stroke="#b04f9c" stroke-width="0.5"/><rect x="429.8" y="227.7" width="5.4" height="5.4" fill="#b04f9c" stroke="#b04f9c" stroke-width="0.5"/><rect x="447" y="245.3" width="5.4" height="5.4" fill="#b04f9c" stroke="#b04f9c" stroke-width="0.5"/><rect x="446.5" y="269" width="5.4" height="5.4" fill="#b04f9c" stroke="#b04f9c" stroke-width="0.5"/><rect x="446.5" y="280.9" width="5.4" height="5.4" fill="#b04f9c" stroke="#b04f9c" stroke-width="0.5"/><polyline points="407.6,176.8 412.4,194.6 415.1,212.5 416.5,230.4 416.9,248 444.2,271.7 449.2,283.6" fill="none" stroke="#5bb034" stroke-width="0.9" stroke-linejoin="round" stroke-dasharray="3,2"/><path d="M410.82,176.8L405.22,173.72L405.22,179.88Z" fill="#5bb034" stroke="#5bb034" stroke-width="0.5"/><path d="M415.62,194.6L410.02,191.52L410.02,197.68Z" fill="#5bb034" stroke="#5bb034" stroke-width="0.5"/><path d="M418.32,212.5L412.72,209.42L412.72,215.58Z" fill="#5bb034" stroke="#5bb034" stroke-width="0.5"/><path d="M419.72,230.4L414.12,227.32L414.12,233.48Z" fill="#5bb034" stroke="#5bb034" stroke-width="0.5"/><path d="M420.12,248L414.52,244.92L414.52,251.08Z" fill="#5bb034" stroke="#5bb034" stroke-width="0.5"/><path d="M447.42,271.7L441.82,268.62L441.82,274.78Z" fill="#5bb034" stroke="#5bb034" stroke-width="0.5"/><path d="M452.42,283.6L446.82,280.52L446.82,286.68Z" fill="#5bb034" stroke="#5bb034" stroke-width="0.5"/><line x1="464.1" y1="332.7" x2="448.6" y2="456.9" stroke="#222" stroke-width="1.2" stroke-linecap="butt"/><polyline points="451.2,332.7 458.5,345.9 457.9,358.9 455.5,372.7 454.5,386.1 453.5,403.9 452,421.3 450.5,439.1 448.6,457" fill="none" stroke="#b04f9c" stroke-width="0.9" stroke-linejoin="round"/><rect x="448.5" y="330" width="5.4" height="5.4" fill="#b04f9c" stroke="#b04f9c" stroke-width="0.5"/><rect x="455.8" y="343.2" width="5.4" height="5.4" fill="#b04f9c" stroke="#b04f9c" stroke-width="0.5"/><rect x="455.2" y="356.2" width="5.4" height="5.4" fill="#b04f9c" stroke="#b04f9c" stroke-width="0.5"/><rect x="452.8" y="370" width="5.4" height="5.4" fill="#b04f9c" stroke="#b04f9c" stroke-width="0.5"/><rect x="451.8" y="383.4" width="5.4" height="5.4" fill="#b04f9c" stroke="#b04f9c" stroke-width="0.5"/><rect x="450.8" y="401.2" width="5.4" height="5.4" fill="#b04f9c" stroke="#b04f9c" stroke-width="0.5"/><rect x="449.3" y="418.6" width="5.4" height="5.4" fill="#b04f9c" stroke="#b04f9c" stroke-width="0.5"/><rect x="447.8" y="436.4" width="5.4" height="5.4" fill="#b04f9c" stroke="#b04f9c" stroke-width="0.5"/><rect x="445.9" y="454.3" width="5.4" height="5.4" fill="#b04f9c" stroke="#b04f9c" stroke-width="0.5"/><polyline points="423.5,332.7 437.1,345.9 450.7,358.9 454.7,372.7 453.3,386.1 452.2,403.9 450.7,421.3 450.1,439.1 448.6,457" fill="none" stroke="#555" stroke-width="0.9" stroke-linejoin="round" stroke-dasharray="3,2"/><rect x="420.8" y="330" width="5.4" height="5.4" fill="#404040" stroke="#404040" stroke-width="0.5"/><rect x="434.4" y="343.2" width="5.4" height="5.4" fill="#404040" stroke="#404040" stroke-width="0.5"/><rect x="448" y="356.2" width="5.4" height="5.4" fill="#404040" stroke="#404040" stroke-width="0.5"/><rect x="452" y="370" width="5.4" height="5.4" fill="#404040" stroke="#404040" stroke-width="0.5"/><rect x="450.6" y="383.4" width="5.4" height="5.4" fill="#404040" stroke="#404040" stroke-width="0.5"/><rect x="449.5" y="401.2" width="5.4" height="5.4" fill="#404040" stroke="#404040" stroke-width="0.5"/><rect x="448" y="418.6" width="5.4" height="5.4" fill="#404040" stroke="#404040" stroke-width="0.5"/><rect x="447.4" y="436.4" width="5.4" height="5.4" fill="#404040" stroke="#404040" stroke-width="0.5"/><rect x="445.9" y="454.3" width="5.4" height="5.4" fill="#404040" stroke="#404040" stroke-width="0.5"/><polyline points="386.7,332.7 405.1,345.9 408.9,358.9 414.5,372.7 417.7,386.1 419.8,403.9 419.8,421.3 432.3,439.1 448.6,457" fill="none" stroke="#e8001c" stroke-width="0.9" stroke-linejoin="round" stroke-dasharray="3,2"/><circle cx="386.7" cy="332.7" r="2.8" fill="#e8001c" stroke="#e8001c" stroke-width="0.5"/><circle cx="405.1" cy="345.9" r="2.8" fill="#e8001c" stroke="#e8001c" stroke-width="0.5"/><circle cx="408.9" cy="358.9" r="2.8" fill="#e8001c" stroke="#e8001c" stroke-width="0.5"/><circle cx="414.5" cy="372.7" r="2.8" fill="#e8001c" stroke="#e8001c" stroke-width="0.5"/><circle cx="417.7" cy="386.1" r="2.8" fill="#e8001c" stroke="#e8001c" stroke-width="0.5"/><circle cx="419.8" cy="403.9" r="2.8" fill="#e8001c" stroke="#e8001c" stroke-width="0.5"/><circle cx="419.8" cy="421.3" r="2.8" fill="#e8001c" stroke="#e8001c" stroke-width="0.5"/><circle cx="432.3" cy="439.1" r="2.8" fill="#e8001c" stroke="#e8001c" stroke-width="0.5"/><circle cx="448.6" cy="457" r="2.8" fill="#e8001c" stroke="#e8001c" stroke-width="0.5"/><polyline points="443.4,332.7 421.9,345.9 416.6,358.9 414.5,372.7 415.6,386.1 423.5,403.9 421.4,421.3 432.3,439.1 448.6,457" fill="none" stroke="#2a9a8e" stroke-width="0.9" stroke-linejoin="round"/><path d="M443.4,329.7L446.4,332.7L443.4,335.7L440.4,332.7Z" fill="#fff" stroke="#2a9a8e" stroke-width="0.8"/><path d="M421.9,342.9L424.9,345.9L421.9,348.9L418.9,345.9Z" fill="#fff" stroke="#2a9a8e" stroke-width="0.8"/><path d="M416.6,355.9L419.6,358.9L416.6,361.9L413.6,358.9Z" fill="#fff" stroke="#2a9a8e" stroke-width="0.8"/><path d="M414.5,369.7L417.5,372.7L414.5,375.7L411.5,372.7Z" fill="#fff" stroke="#2a9a8e" stroke-width="0.8"/><path d="M415.6,383.1L418.6,386.1L415.6,389.1L412.6,386.1Z" fill="#fff" stroke="#2a9a8e" stroke-width="0.8"/><path d="M423.5,400.9L426.5,403.9L423.5,406.9L420.5,403.9Z" fill="#fff" stroke="#2a9a8e" stroke-width="0.8"/><path d="M421.4,418.3L424.4,421.3L421.4,424.3L418.4,421.3Z" fill="#fff" stroke="#2a9a8e" stroke-width="0.8"/><path d="M432.3,436.1L435.3,439.1L432.3,442.1L429.3,439.1Z" fill="#fff" stroke="#2a9a8e" stroke-width="0.8"/><path d="M448.6,454L451.6,457L448.6,460L445.6,457Z" fill="#fff" stroke="#2a9a8e" stroke-width="0.8"/><polyline points="392.6,332.7 414.5,345.9 399.5,358.9 408.9,372.7 400.9,386.1 419.3,403.9 419.3,421.3 445.3,439.1 448.6,457" fill="none" stroke="#1f5f9e" stroke-width="0.9" stroke-linejoin="round"/><circle cx="392.6" cy="332.7" r="2.8" fill="#1050a0" stroke="#1050a0" stroke-width="0.5"/><circle cx="414.5" cy="345.9" r="2.8" fill="#1050a0" stroke="#1050a0" stroke-width="0.5"/><circle cx="399.5" cy="358.9" r="2.8" fill="#1050a0" stroke="#1050a0" stroke-width="0.5"/><circle cx="408.9" cy="372.7" r="2.8" fill="#1050a0" stroke="#1050a0" stroke-width="0.5"/><circle cx="400.9" cy="386.1" r="2.8" fill="#1050a0" stroke="#1050a0" stroke-width="0.5"/><circle cx="419.3" cy="403.9" r="2.8" fill="#1050a0" stroke="#1050a0" stroke-width="0.5"/><circle cx="419.3" cy="421.3" r="2.8" fill="#1050a0" stroke="#1050a0" stroke-width="0.5"/><circle cx="445.3" cy="439.1" r="2.8" fill="#1050a0" stroke="#1050a0" stroke-width="0.5"/><circle cx="448.6" cy="457" r="2.8" fill="#1050a0" stroke="#1050a0" stroke-width="0.5"/><line x1="470.5" y1="494.2" x2="448.4" y2="612.3" stroke="#222" stroke-width="1.2" stroke-linecap="butt"/><polyline points="388.1,488.2 395.7,496.8 397.8,506 402.9,514.5 405.6,523.7 407.4,535.4 407.1,547.4 413.4,559.3 420.4,583.1 440.5,606.8 449,612.5" fill="none" stroke="#e8001c" stroke-width="0.9" stroke-linejoin="round" stroke-dasharray="3,2"/><circle cx="388.1" cy="488.2" r="2.8" fill="#e8001c" stroke="#e8001c" stroke-width="0.5"/><circle cx="395.7" cy="496.8" r="2.8" fill="#e8001c" stroke="#e8001c" stroke-width="0.5"/><circle cx="397.8" cy="506" r="2.8" fill="#e8001c" stroke="#e8001c" stroke-width="0.5"/><circle cx="402.9" cy="514.5" r="2.8" fill="#e8001c" stroke="#e8001c" stroke-width="0.5"/><circle cx="405.6" cy="523.7" r="2.8" fill="#e8001c" stroke="#e8001c" stroke-width="0.5"/><circle cx="407.4" cy="535.4" r="2.8" fill="#e8001c" stroke="#e8001c" stroke-width="0.5"/><circle cx="407.1" cy="547.4" r="2.8" fill="#e8001c" stroke="#e8001c" stroke-width="0.5"/><circle cx="413.4" cy="559.3" r="2.8" fill="#e8001c" stroke="#e8001c" stroke-width="0.5"/><circle cx="420.4" cy="583.1" r="2.8" fill="#e8001c" stroke="#e8001c" stroke-width="0.5"/><circle cx="440.5" cy="606.8" r="2.8" fill="#e8001c" stroke="#e8001c" stroke-width="0.5"/><circle cx="449" cy="612.5" r="2.8" fill="#e8001c" stroke="#e8001c" stroke-width="0.5"/><polyline points="434.4,488.2 422,496.8 416.8,506 406,514.5 406.9,523.7 407.6,535.4 410.1,547.4 416.1,559.3 420.4,583.1 441,606.8 449,612.5" fill="none" stroke="#5bb034" stroke-width="0.9" stroke-linejoin="round" stroke-dasharray="3,2"/><path d="M434.4,485.07L437.52,488.2L434.4,491.32L431.27,488.2Z" fill="#5bb034" stroke="#5bb034" stroke-width="0.5"/><path d="M422,493.68L425.12,496.8L422,499.93L418.88,496.8Z" fill="#5bb034" stroke="#5bb034" stroke-width="0.5"/><path d="M416.8,502.88L419.93,506L416.8,509.12L413.68,506Z" fill="#5bb034" stroke="#5bb034" stroke-width="0.5"/><path d="M406,511.38L409.12,514.5L406,517.62L402.88,514.5Z" fill="#5bb034" stroke="#5bb034" stroke-width="0.5"/><path d="M406.9,520.58L410.02,523.7L406.9,526.83L403.77,523.7Z" fill="#5bb034" stroke="#5bb034" stroke-width="0.5"/><path d="M407.6,532.27L410.73,535.4L407.6,538.52L404.48,535.4Z" fill="#5bb034" stroke="#5bb034" stroke-width="0.5"/><path d="M410.1,544.27L413.23,547.4L410.1,550.52L406.98,547.4Z" fill="#5bb034" stroke="#5bb034" stroke-width="0.5"/><path d="M416.1,556.17L419.23,559.3L416.1,562.42L412.98,559.3Z" fill="#5bb034" stroke="#5bb034" stroke-width="0.5"/><path d="M420.4,579.98L423.52,583.1L420.4,586.23L417.27,583.1Z" fill="#5bb034" stroke="#5bb034" stroke-width="0.5"/><path d="M441,603.67L444.12,606.8L441,609.92L437.88,606.8Z" fill="#5bb034" stroke="#5bb034" stroke-width="0.5"/><path d="M449,609.38L452.12,612.5L449,615.62L445.88,612.5Z" fill="#5bb034" stroke="#5bb034" stroke-width="0.5"/><polyline points="449.6,488.2 463.5,496.8 461.7,506 460.4,514.5 459.5,523.7 459.1,535.4 457,547.4 453.8,559.3 451.7,583.1 449.5,606.8 449,612.5" fill="none" stroke="#5bb034" stroke-width="0.9" stroke-linejoin="round" stroke-dasharray="3,2"/><path d="M452.82,488.2L447.22,485.12L447.22,491.28Z" fill="#5bb034" stroke="#5bb034" stroke-width="0.5"/><path d="M466.72,496.8L461.12,493.72L461.12,499.88Z" fill="#5bb034" stroke="#5bb034" stroke-width="0.5"/><path d="M464.92,506L459.32,502.92L459.32,509.08Z" fill="#5bb034" stroke="#5bb034" stroke-width="0.5"/><path d="M463.62,514.5L458.02,511.42L458.02,517.58Z" fill="#5bb034" stroke="#5bb034" stroke-width="0.5"/><path d="M462.72,523.7L457.12,520.62L457.12,526.78Z" fill="#5bb034" stroke="#5bb034" stroke-width="0.5"/><path d="M462.32,535.4L456.72,532.32L456.72,538.48Z" fill="#5bb034" stroke="#5bb034" stroke-width="0.5"/><path d="M460.22,547.4L454.62,544.32L454.62,550.48Z" fill="#5bb034" stroke="#5bb034" stroke-width="0.5"/><path d="M457.02,559.3L451.42,556.22L451.42,562.38Z" fill="#5bb034" stroke="#5bb034" stroke-width="0.5"/><path d="M454.92,583.1L449.32,580.02L449.32,586.18Z" fill="#5bb034" stroke="#5bb034" stroke-width="0.5"/><path d="M452.72,606.8L447.12,603.72L447.12,609.88Z" fill="#5bb034" stroke="#5bb034" stroke-width="0.5"/><path d="M452.22,612.5L446.62,609.42L446.62,615.58Z" fill="#5bb034" stroke="#5bb034" stroke-width="0.5"/><polyline points="427.6,488.2 450.1,496.8 454.1,506 455.9,514.5 455.4,523.7 455.3,535.4 455,547.4 454.3,559.3 451.7,583.1 449.5,606.8 449,612.5" fill="none" stroke="#1f5f9e" stroke-width="0.9" stroke-linejoin="round"/><rect x="425.3" y="485.9" width="4.6" height="4.6" fill="#fff" stroke="#1f5f9e" stroke-width="0.9"/><rect x="447.8" y="494.5" width="4.6" height="4.6" fill="#fff" stroke="#1f5f9e" stroke-width="0.9"/><rect x="451.8" y="503.7" width="4.6" height="4.6" fill="#fff" stroke="#1f5f9e" stroke-width="0.9"/><rect x="453.6" y="512.2" width="4.6" height="4.6" fill="#fff" stroke="#1f5f9e" stroke-width="0.9"/><rect x="453.1" y="521.4" width="4.6" height="4.6" fill="#fff" stroke="#1f5f9e" stroke-width="0.9"/><rect x="453" y="533.1" width="4.6" height="4.6" fill="#fff" stroke="#1f5f9e" stroke-width="0.9"/><rect x="452.7" y="545.1" width="4.6" height="4.6" fill="#fff" stroke="#1f5f9e" stroke-width="0.9"/><rect x="452" y="557" width="4.6" height="4.6" fill="#fff" stroke="#1f5f9e" stroke-width="0.9"/><rect x="449.4" y="580.8" width="4.6" height="4.6" fill="#fff" stroke="#1f5f9e" stroke-width="0.9"/><rect x="447.2" y="604.5" width="4.6" height="4.6" fill="#fff" stroke="#1f5f9e" stroke-width="0.9"/><rect x="446.7" y="610.2" width="4.6" height="4.6" fill="#fff" stroke="#1f5f9e" stroke-width="0.9"/><polyline points="406.5,488.2 410.9,496.8 416.8,506 423,514.5 424.8,523.7 426.4,535.4 428,547.4 430,559.3 431.8,583.1 444.1,606.8 449,612.5" fill="none" stroke="#b04f9c" stroke-width="0.9" stroke-linejoin="round"/><circle cx="406.5" cy="488.2" r="2.8" fill="#b04f9c" stroke="#b04f9c" stroke-width="0.5"/><circle cx="410.9" cy="496.8" r="2.8" fill="#b04f9c" stroke="#b04f9c" stroke-width="0.5"/><circle cx="416.8" cy="506" r="2.8" fill="#b04f9c" stroke="#b04f9c" stroke-width="0.5"/><circle cx="423" cy="514.5" r="2.8" fill="#b04f9c" stroke="#b04f9c" stroke-width="0.5"/><circle cx="424.8" cy="523.7" r="2.8" fill="#b04f9c" stroke="#b04f9c" stroke-width="0.5"/><circle cx="426.4" cy="535.4" r="2.8" fill="#b04f9c" stroke="#b04f9c" stroke-width="0.5"/><circle cx="428" cy="547.4" r="2.8" fill="#b04f9c" stroke="#b04f9c" stroke-width="0.5"/><circle cx="430" cy="559.3" r="2.8" fill="#b04f9c" stroke="#b04f9c" stroke-width="0.5"/><circle cx="431.8" cy="583.1" r="2.8" fill="#b04f9c" stroke="#b04f9c" stroke-width="0.5"/><circle cx="444.1" cy="606.8" r="2.8" fill="#b04f9c" stroke="#b04f9c" stroke-width="0.5"/><circle cx="449" cy="612.5" r="2.8" fill="#b04f9c" stroke="#b04f9c" stroke-width="0.5"/><text x="346.08" y="647.3" font-size="16.5" letter-spacing="0.77" fill="#000">-800</text><text x="402.58" y="647.3" font-size="16.5" letter-spacing="0.77" fill="#000">-300</text><text x="458.96" y="647.3" font-size="16.5" letter-spacing="0.26" fill="#000">200</text><text x="355.32" y="662.86" font-size="16" letter-spacing="0.67" fill="#000">Total potential(cm)</text><rect x="539.5" y="7.9" width="144" height="586.5" fill="none" stroke="#aaa" stroke-width="1"/><line x1="540" y1="130.5" x2="683.5" y2="130.5" stroke="#999" stroke-width="0.8" stroke-linecap="butt" stroke-dasharray="2,2"/><line x1="540" y1="229.8" x2="683.5" y2="229.8" stroke="#999" stroke-width="0.8" stroke-linecap="butt" stroke-dasharray="2,2"/><line x1="540" y1="344" x2="683.5" y2="344" stroke="#999" stroke-width="0.8" stroke-linecap="butt" stroke-dasharray="2,2"/><line x1="540" y1="466.4" x2="683.5" y2="466.4" stroke="#999" stroke-width="0.8" stroke-linecap="butt" stroke-dasharray="2,2"/><text x="550.73" y="24.83" font-size="15.5" letter-spacing="-0.03" font-weight="bold" fill="#000">Legend</text><line x1="558" y1="45.05" x2="581" y2="45.05" stroke="#000" stroke-width="3.4" stroke-linecap="butt"/><text x="586.24" y="50.83" font-size="16" letter-spacing="0.18" fill="#000">Irrigation</text><path d="M565.1,62.7L574.1,62.7L569.6,69.9Z" fill="none" stroke="#4a3e3e" stroke-width="1" stroke-linejoin="miter"/><line x1="564" y1="72.5" x2="575.2" y2="72.5" stroke="#4a3e3e" stroke-width="1.1" stroke-linecap="butt"/><line x1="566.8" y1="75.5" x2="572.4" y2="75.5" stroke="#4a3e3e" stroke-width="1.1" stroke-linecap="butt"/><line x1="558" y1="70.3" x2="580.9" y2="70.3" stroke="#4a3e3e" stroke-width="1" stroke-linecap="butt"/><text x="587.3" y="76.69" font-size="16" letter-spacing="0.54" fill="#000">Water table</text><line x1="557.6" y1="94.6" x2="580.2" y2="94.6" stroke="#555" stroke-width="1.2" stroke-linecap="butt"/><text x="586.16" y="100.78" font-size="16" letter-spacing="0.7" fill="#000">Gravitational</text><text x="586.56" y="119.86" font-size="16" letter-spacing="0.6" fill="#000">potential</text><text x="549.31" y="148.38" font-size="13.2" letter-spacing="0.94" fill="#000">(b)</text><line x1="559.4" y1="160.7" x2="582.5" y2="160.7" stroke="#e8001c" stroke-width="1" stroke-linecap="butt" stroke-dasharray="3,3"/><circle cx="570.95" cy="160.7" r="3.3" fill="#e8001c" stroke="#e8001c" stroke-width="0.5"/><text x="586.16" y="166.33" font-size="16" letter-spacing="0.6" fill="#000">October 15</text><line x1="560.5" y1="178.8" x2="583.5" y2="178.8" stroke="#1f5f9e" stroke-width="1.4" stroke-linecap="butt"/><path d="M572,175.24L575.41,181.44L568.59,181.44Z" fill="#fff" stroke="#1f5f9e" stroke-width="0.9"/><text x="586.36" y="184.43" font-size="16" letter-spacing="0.6" fill="#000">October 16</text><line x1="560" y1="196.9" x2="583" y2="196.9" stroke="#5bb034" stroke-width="1" stroke-linecap="butt" stroke-dasharray="3,3"/><path d="M571.5,193.28L575.12,196.9L571.5,200.53L567.88,196.9Z" fill="#5bb034" stroke="#5bb034" stroke-width="0.5"/><text x="587.36" y="202.53" font-size="16" letter-spacing="0.62" fill="#000">October 19</text><line x1="560" y1="214.6" x2="583" y2="214.6" stroke="#b04f9c" stroke-width="1.4" stroke-linecap="butt"/><rect x="568.6" y="211.7" width="5.8" height="5.8" fill="#b04f9c" stroke="#b04f9c" stroke-width="0.5"/><text x="588.46" y="220.23" font-size="16" letter-spacing="0.55" fill="#000">October 23</text><text x="548.91" y="246.93" font-size="13.2" letter-spacing="0.89" fill="#000">(d)</text><line x1="561.2" y1="260.5" x2="584.3" y2="260.5" stroke="#e8001c" stroke-width="1" stroke-linecap="butt" stroke-dasharray="3,3"/><circle cx="572.75" cy="260.5" r="3.3" fill="#e8001c" stroke="#e8001c" stroke-width="0.5"/><text x="588.46" y="266.13" font-size="16" letter-spacing="0.51" fill="#000">October 15</text><line x1="561.2" y1="278.6" x2="584.3" y2="278.6" stroke="#1f5f9e" stroke-width="1.4" stroke-linecap="butt"/><path d="M572.75,275.04L576.16,281.24L569.34,281.24Z" fill="#1f5f9e" stroke="#1f5f9e" stroke-width="0.5"/><text x="588.46" y="284.23" font-size="16" letter-spacing="0.49" fill="#000">October 17</text><line x1="561.2" y1="296.7" x2="584.3" y2="296.7" stroke="#2a9a8e" stroke-width="1.4" stroke-linecap="butt"/><path d="M572.75,293.57L575.88,296.7L572.75,299.82L569.62,296.7Z" fill="#fff" stroke="#2a9a8e" stroke-width="0.8"/><text x="588.46" y="302.33" font-size="16" letter-spacing="0.5" fill="#000">October 18</text><line x1="561.2" y1="314.4" x2="584.3" y2="314.4" stroke="#b04f9c" stroke-width="1.4" stroke-linecap="butt"/><rect x="569.85" y="311.5" width="5.8" height="5.8" fill="#b04f9c" stroke="#b04f9c" stroke-width="0.5"/><text x="589.06" y="320.03" font-size="16" letter-spacing="0.54" fill="#000">October 23</text><line x1="561.2" y1="332.5" x2="584.3" y2="332.5" stroke="#5bb034" stroke-width="1" stroke-linecap="butt" stroke-dasharray="3,3"/><path d="M576.09,332.5L570.28,329.31L570.28,335.69Z" fill="#5bb034" stroke="#5bb034" stroke-width="0.5"/><text x="588.06" y="338.13" font-size="16" letter-spacing="0.53" fill="#000">October 27</text><text x="548.91" y="362.25" font-size="13.2" letter-spacing="0.64" fill="#000">(f)</text><line x1="561.2" y1="373.5" x2="584.3" y2="373.5" stroke="#e8001c" stroke-width="1" stroke-linecap="butt" stroke-dasharray="3,3"/><circle cx="572.75" cy="373.5" r="3.3" fill="#e8001c" stroke="#e8001c" stroke-width="0.5"/><text x="588.46" y="379.13" font-size="16" letter-spacing="0.51" fill="#000">October 15</text><line x1="561.2" y1="391.6" x2="584.3" y2="391.6" stroke="#2a9a8e" stroke-width="1.4" stroke-linecap="butt"/><path d="M572.75,388.48L575.88,391.6L572.75,394.73L569.62,391.6Z" fill="#fff" stroke="#2a9a8e" stroke-width="0.8"/><text x="588.46" y="397.23" font-size="16" letter-spacing="0.5" fill="#000">October 18</text><line x1="561.2" y1="409.7" x2="584.3" y2="409.7" stroke="#b04f9c" stroke-width="1.4" stroke-linecap="butt"/><rect x="569.85" y="406.8" width="5.8" height="5.8" fill="#b04f9c" stroke="#b04f9c" stroke-width="0.5"/><text x="589.06" y="415.33" font-size="16" letter-spacing="0.54" fill="#000">October 23</text><line x1="557" y1="427.8" x2="580" y2="427.8" stroke="#555" stroke-width="1" stroke-linecap="butt" stroke-dasharray="3,3"/><rect x="566" y="425.3" width="5" height="5" fill="#404040" stroke="#404040" stroke-width="0.5"/><text x="584.52" y="433.43" font-size="16" letter-spacing="0.46" fill="#000">November 2</text><line x1="557" y1="445.7" x2="580" y2="445.7" stroke="#1f5f9e" stroke-width="1.4" stroke-linecap="butt"/><circle cx="568.5" cy="445.7" r="3" fill="#1050a0" stroke="#1050a0" stroke-width="0.5"/><text x="584.52" y="451.33" font-size="16" letter-spacing="0.48" fill="#000">November 8</text><text x="548.81" y="487.08" font-size="13.2" letter-spacing="0.79" fill="#000">(h)</text><line x1="561" y1="500.7" x2="584" y2="500.7" stroke="#e8001c" stroke-width="1" stroke-linecap="butt" stroke-dasharray="3,3"/><circle cx="572.5" cy="500.7" r="3.3" fill="#e8001c" stroke="#e8001c" stroke-width="0.5"/><text x="588.16" y="506.33" font-size="16" letter-spacing="0.6" fill="#000">October 15</text><line x1="561" y1="518.6" x2="584" y2="518.6" stroke="#5bb034" stroke-width="1" stroke-linecap="butt" stroke-dasharray="3,3"/><path d="M572.5,514.98L576.12,518.6L572.5,522.23L568.88,518.6Z" fill="#5bb034" stroke="#5bb034" stroke-width="0.5"/><text x="588.66" y="524.23" font-size="16" letter-spacing="0.54" fill="#000">October 19</text><line x1="561" y1="536.5" x2="584" y2="536.5" stroke="#5bb034" stroke-width="1" stroke-linecap="butt" stroke-dasharray="3,3"/><path d="M575.84,536.5L570.03,533.31L570.03,539.69Z" fill="#5bb034" stroke="#5bb034" stroke-width="0.5"/><text x="587.46" y="542.13" font-size="16" letter-spacing="0.6" fill="#000">October 27</text><line x1="552.7" y1="555" x2="575.4" y2="555" stroke="#5a88b8" stroke-width="1.4" stroke-linecap="butt"/><rect x="561.85" y="552.8" width="4.4" height="4.4" fill="#fff" stroke="#3a6aa0" stroke-width="0.9"/><text x="579.92" y="560.63" font-size="16" letter-spacing="0.6" fill="#000">November 10</text><line x1="552.7" y1="572.4" x2="575.4" y2="572.4" stroke="#b04f9c" stroke-width="1.4" stroke-linecap="butt"/><circle cx="564.05" cy="572.4" r="3" fill="#b04f9c" stroke="#b04f9c" stroke-width="0.5"/><text x="579.92" y="578.03" font-size="16" letter-spacing="0.6" fill="#000">November 18</text></svg>
</body></html>
